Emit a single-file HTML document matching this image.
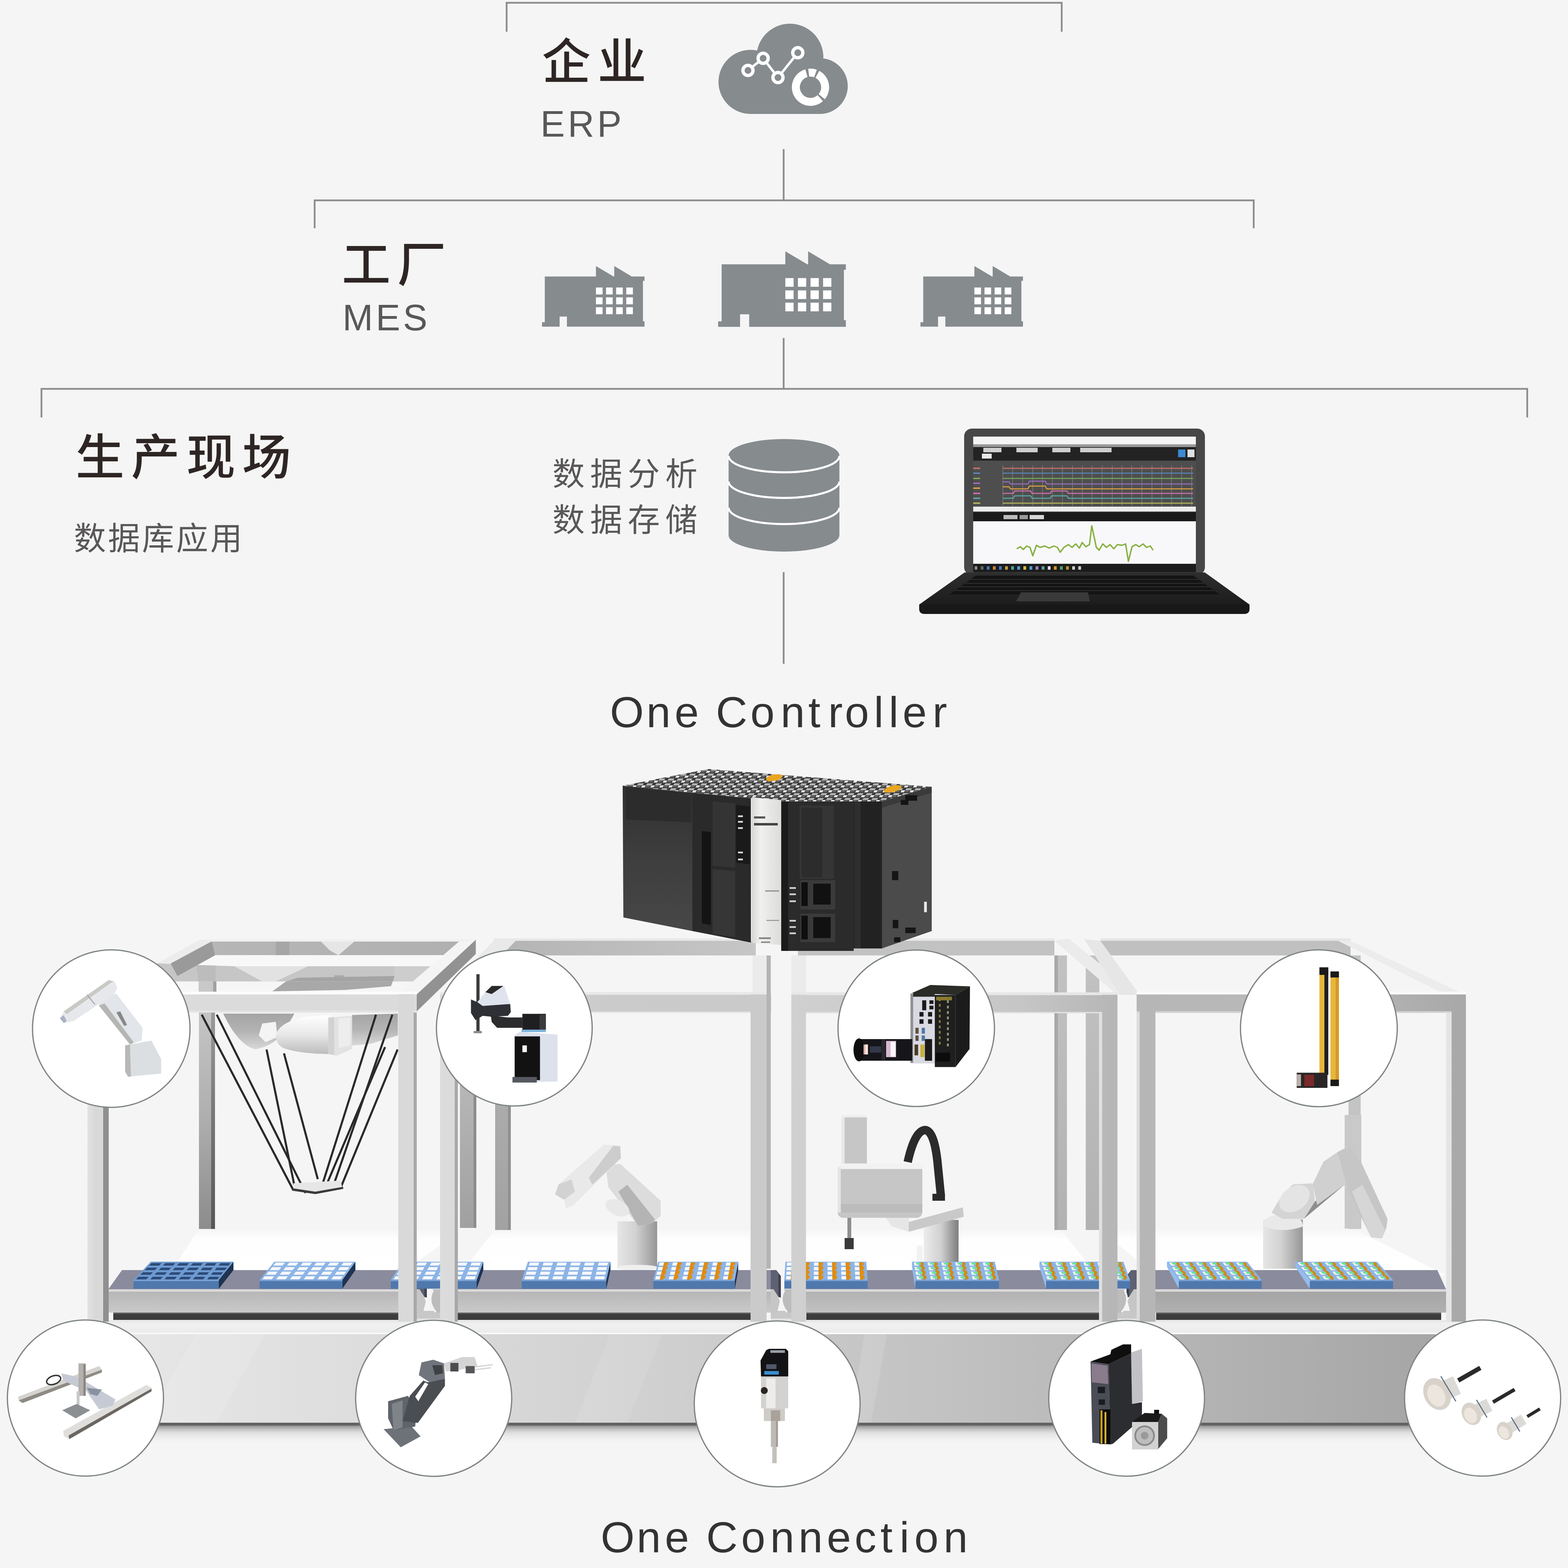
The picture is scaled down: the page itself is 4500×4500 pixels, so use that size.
<!DOCTYPE html>
<html lang="zh"><head><meta charset="utf-8"><title>One Controller / One Connection</title>
<style>
html,body{margin:0;padding:0;background:#f5f5f5;}
body{width:4500px;height:4500px;overflow:hidden;font-family:"Liberation Sans","Noto Sans CJK SC",sans-serif;}
svg{display:block;}
svg text{font-family:"Liberation Sans","Noto Sans CJK SC",sans-serif;}
</style></head><body>
<svg xmlns="http://www.w3.org/2000/svg" width="4500" height="4500" viewBox="0 0 4500 4500">
<defs><linearGradient id="floorg" x1="0" y1="0" x2="0" y2="1" gradientUnits="objectBoundingBox"><stop offset="0" stop-color="#ffffff" stop-opacity="0.0"/><stop offset="0.25" stop-color="#ffffff" stop-opacity="0.9"/><stop offset="1" stop-color="#ffffff" stop-opacity="1"/></linearGradient><linearGradient id="bp1" x1="0" y1="0" x2="0" y2="1" gradientUnits="objectBoundingBox"><stop offset="0" stop-color="#c8c8c8"/><stop offset="0.5" stop-color="#b0b0b0"/><stop offset="1" stop-color="#8c8c8c"/></linearGradient><linearGradient id="bp1d" x1="0" y1="0" x2="0" y2="1" gradientUnits="objectBoundingBox"><stop offset="0" stop-color="#a0a0a0"/><stop offset="0.5" stop-color="#787878"/><stop offset="1" stop-color="#565656"/></linearGradient><linearGradient id="bp1b" x1="0" y1="0" x2="0" y2="1" gradientUnits="objectBoundingBox"><stop offset="0" stop-color="#c2c2c2"/><stop offset="1" stop-color="#a0a0a0"/></linearGradient><linearGradient id="bp2" x1="0" y1="0" x2="0" y2="1" gradientUnits="objectBoundingBox"><stop offset="0" stop-color="#b6b6b6"/><stop offset="1" stop-color="#a2a2a2"/></linearGradient><linearGradient id="bp3" x1="0" y1="0" x2="0" y2="1" gradientUnits="objectBoundingBox"><stop offset="0" stop-color="#c2c2c2"/><stop offset="1" stop-color="#b2b2b2"/></linearGradient><linearGradient id="tf1" x1="0" y1="0" x2="1" y2="0" gradientUnits="objectBoundingBox"><stop offset="0" stop-color="#b6b6b6"/><stop offset="1" stop-color="#b0b0b0"/></linearGradient><linearGradient id="bb2" x1="0" y1="0" x2="1" y2="0" gradientUnits="objectBoundingBox"><stop offset="0" stop-color="#b4b4b4"/><stop offset="1" stop-color="#c6c6c6"/></linearGradient><linearGradient id="cyl" x1="0" y1="0" x2="1" y2="0" gradientUnits="objectBoundingBox"><stop offset="0" stop-color="#e6e6e6"/><stop offset="0.45" stop-color="#d2d2d2"/><stop offset="0.85" stop-color="#a6a6a6"/><stop offset="1" stop-color="#969696"/></linearGradient><linearGradient id="cyl2" x1="0" y1="0" x2="1" y2="0" gradientUnits="objectBoundingBox"><stop offset="0" stop-color="#ececec"/><stop offset="0.5" stop-color="#d0d0d0"/><stop offset="0.9" stop-color="#8c8c8c"/><stop offset="1" stop-color="#808080"/></linearGradient><linearGradient id="arm" x1="0" y1="0" x2="1" y2="1" gradientUnits="objectBoundingBox"><stop offset="0" stop-color="#f0f0f0"/><stop offset="0.6" stop-color="#dedede"/><stop offset="1" stop-color="#bdbdbd"/></linearGradient><linearGradient id="dl1" x1="0" y1="0" x2="0" y2="1" gradientUnits="objectBoundingBox"><stop offset="0" stop-color="#ffffff"/><stop offset="0.5" stop-color="#e8e8e8"/><stop offset="1" stop-color="#bcbcbc"/></linearGradient><linearGradient id="dl2" x1="0" y1="0" x2="0" y2="1" gradientUnits="objectBoundingBox"><stop offset="0" stop-color="#a4a4a4"/><stop offset="0.5" stop-color="#b4b4b4"/><stop offset="1" stop-color="#d8d8d8"/></linearGradient><linearGradient id="cs1" x1="0" y1="0" x2="0" y2="1" gradientUnits="objectBoundingBox"><stop offset="0" stop-color="#b4b4b4"/><stop offset="1" stop-color="#cacaca"/></linearGradient><linearGradient id="cs3" x1="0" y1="0" x2="0" y2="1" gradientUnits="objectBoundingBox"><stop offset="0" stop-color="#b0b0b0"/><stop offset="1" stop-color="#c2c2c2"/></linearGradient><linearGradient id="cs4" x1="0" y1="0" x2="0" y2="1" gradientUnits="objectBoundingBox"><stop offset="0" stop-color="#a4a4a4"/><stop offset="1" stop-color="#b0b0b0"/></linearGradient><linearGradient id="baseg" x1="0" y1="0" x2="1" y2="0" gradientUnits="objectBoundingBox"><stop offset="0" stop-color="#e8e8e8"/><stop offset="0.111" stop-color="#e2e2e2"/><stop offset="0.3645" stop-color="#d3d3d3"/><stop offset="0.618" stop-color="#c2c2c2"/><stop offset="0.884" stop-color="#adadad"/><stop offset="1" stop-color="#a4a4a4"/></linearGradient><linearGradient id="shadow" x1="0" y1="0" x2="0" y2="1" gradientUnits="objectBoundingBox"><stop offset="0" stop-color="#7a7a7a" stop-opacity="0.85"/><stop offset="0.2" stop-color="#9a9a9a" stop-opacity="0.6"/><stop offset="0.45" stop-color="#bbbbbb" stop-opacity="0.35"/><stop offset="1" stop-color="#dddddd" stop-opacity="0"/></linearGradient><linearGradient id="topg" x1="0" y1="0" x2="0" y2="1" gradientUnits="objectBoundingBox"><stop offset="0" stop-color="#e4e4e4"/><stop offset="0.25" stop-color="#f0f0f0"/><stop offset="1" stop-color="#ececec"/></linearGradient><linearGradient id="fc1" x1="0" y1="0" x2="1" y2="0" gradientUnits="objectBoundingBox"><stop offset="0" stop-color="#e2e2e2"/><stop offset="0.5" stop-color="#d8d8d8"/><stop offset="1" stop-color="#dadada"/></linearGradient><linearGradient id="fc2" x1="1263" y1="0" x2="2215" y2="0" gradientUnits="userSpaceOnUse"><stop offset="0" stop-color="#dcdcdc"/><stop offset="0.5" stop-color="#cbcbcb"/><stop offset="1" stop-color="#cacaca"/></linearGradient><linearGradient id="fc3" x1="2271" y1="0" x2="3206" y2="0" gradientUnits="userSpaceOnUse"><stop offset="0" stop-color="#d0d0d0"/><stop offset="0.7" stop-color="#c6c6c6"/><stop offset="1" stop-color="#b6b6b6"/></linearGradient><linearGradient id="fc4" x1="3262" y1="0" x2="4206" y2="0" gradientUnits="userSpaceOnUse"><stop offset="0" stop-color="#b6b6b6"/><stop offset="0.5" stop-color="#bababa"/><stop offset="0.8" stop-color="#b0b0b0"/><stop offset="1" stop-color="#a8a8a8"/></linearGradient><pattern id="vent" width="26" height="14" patternUnits="userSpaceOnUse" patternTransform="skewX(-35)"><rect width="26" height="14" fill="#3a3a3a"/><rect x="0" y="8" width="16" height="6" fill="#b4b4b4"/><rect x="16" y="0" width="10" height="6" fill="#e8e8e8"/><rect x="2" y="1" width="10" height="4" fill="#6a6a6a"/></pattern><linearGradient id="plcL" x1="0" y1="0" x2="0" y2="1" gradientUnits="objectBoundingBox"><stop offset="0" stop-color="#303030"/><stop offset="0.5" stop-color="#3e3e3e"/><stop offset="1" stop-color="#474747"/></linearGradient><linearGradient id="silver" x1="0" y1="0" x2="1" y2="0" gradientUnits="objectBoundingBox"><stop offset="0" stop-color="#d6d6d4"/><stop offset="0.3" stop-color="#f0f0ee"/><stop offset="1" stop-color="#dcdcda"/></linearGradient><linearGradient id="kb" x1="0" y1="0" x2="0" y2="1" gradientUnits="objectBoundingBox"><stop offset="0" stop-color="#2e2e2e"/><stop offset="1" stop-color="#1c1c1c"/></linearGradient></defs>
<rect width="4500" height="4500" fill="#f5f5f5"/>
<polygon points="572.0,3524.0 1330.0,3524.0 1145.0,3660.0 485.0,3660.0" fill="url(#floorg)" />
<polygon points="1424.0,3524.0 2180.0,3524.0 2156.0,3660.0 1317.0,3660.0" fill="url(#floorg)" />
<polygon points="2300.0,3524.0 3040.0,3524.0 3150.0,3660.0 2314.0,3660.0" fill="url(#floorg)" />
<polygon points="3150.0,3524.0 3880.0,3524.0 4150.0,3660.0 3317.0,3660.0" fill="url(#floorg)" />
<polygon points="572.4,2698.9 1365.5,2698.0 1195.2,2854.6 407.0,2854.6" fill="#e6e6e6" />
<polygon points="604.1,2701.4 1319.3,2701.4 1277.9,2741.3 616.2,2741.3" fill="url(#tf1)" />
<polygon points="920.3,2701.4 1017.6,2701.4 971.4,2741.3 947.1,2728.1" fill="#e6e6e6" />
<polygon points="791.4,2701.4 830.3,2701.4 830.3,2741.3 791.4,2741.3" fill="#a6a6a6" />
<polygon points="616.2,2741.3 1277.9,2741.3 1239.0,2772.9 674.6,2772.9 562.7,2769.5" fill="#f8f8f8" />
<polygon points="450.8,2764.6 562.7,2769.5 674.6,2772.9 1239.0,2772.9 1185.5,2816.7 407.0,2816.7" fill="#c6c6c6" />
<polygon points="672.2,2772.9 883.8,2772.9 791.4,2816.7 752.5,2816.7" fill="#e2e2e2" />
<polygon points="1132.0,2772.9 1239.0,2772.9 1185.5,2816.7 1132.0,2816.7" fill="#cdcdcd" />
<polygon points="562.7,2769.5 618.7,2770.9 618.7,2816.7 570.0,2816.7" fill="#bcbcbc" />
<polygon points="959.2,2798.7 986.0,2798.7 986.0,2816.7 959.2,2816.7" fill="#aaaaaa" />
<polygon points="854.6,2806.0 1132.0,2801.1 1127.1,2816.7 820.6,2816.7" fill="#a4a4a4" />
<polygon points="407.0,2816.7 1185.5,2816.7 1146.6,2854.6 407.0,2854.6" fill="#f6f6f6" />
<polygon points="820.6,2816.7 1127.1,2816.7 1122.2,2830.3 990.9,2841.0 781.7,2844.9" fill="#a8a8a8" />
<polygon points="570.0,2816.7 611.4,2816.7 611.4,2854.6 570.0,2854.6" fill="#c8c8c8" />
<polygon points="611.4,2816.7 621.1,2816.7 621.1,2854.6 611.4,2854.6" fill="#a0a0a0" />
<polygon points="572.4,2697.0 607.5,2701.8 489.7,2765.1 450.8,2765.1" fill="#ececec" />
<polygon points="607.5,2701.8 617.2,2741.7 509.2,2801.1 489.7,2765.1" fill="#9a9a9a" />
<polygon points="1317.8,2701.8 1365.5,2697.0 1195.2,2854.6 1147.5,2848.8" fill="#f4f4f4" />
<polygon points="1365.5,2697.0 1365.5,2737.8 1195.2,2903.3 1195.2,2854.6" fill="#929292" />
<polygon points="572.4,2696.0 1365.5,2696.0 1317.8,2702.3 605.5,2702.3" fill="#f0f0f0" />
<rect x="571.0" y="2855.0" width="35.0" height="672.0" fill="url(#bp1)" />
<rect x="606.0" y="2855.0" width="11.0" height="672.0" fill="url(#bp1d)" />
<rect x="1320.0" y="2906.0" width="39.0" height="618.0" fill="url(#bp1b)" />
<rect x="1359.0" y="2906.0" width="8.0" height="618.0" fill="#8c8c8c" />
<rect x="1417.0" y="2700.0" width="752.0" height="42.0" fill="url(#bb2)" />
<rect x="1417.0" y="2693.0" width="752.0" height="7.0" fill="#e8e8e8" />
<rect x="1421.0" y="2742.0" width="45.0" height="788.0" fill="url(#bp2)" />
<rect x="1458.0" y="2742.0" width="8.0" height="788.0" fill="#909090" />
<rect x="2160.0" y="2742.0" width="48.0" height="113.0" fill="#ebebeb" />
<rect x="2271.0" y="2742.0" width="42.0" height="113.0" fill="#ebebeb" />
<rect x="2290.0" y="2700.0" width="736.0" height="42.0" fill="#c2c2c2" />
<rect x="2290.0" y="2693.0" width="736.0" height="7.0" fill="#e8e8e8" />
<rect x="3026.0" y="2742.0" width="36.0" height="788.0" fill="url(#bp3)" />
<rect x="3026.0" y="2742.0" width="10.0" height="788.0" fill="#a8a8a8" />
<rect x="3158.0" y="2700.0" width="718.0" height="42.0" fill="#c0c0c0" />
<rect x="3158.0" y="2693.0" width="718.0" height="7.0" fill="#e6e6e6" />
<rect x="3116.0" y="2742.0" width="39.0" height="788.0" fill="url(#bp3)" />
<rect x="3870.0" y="2742.0" width="35.0" height="785.0" fill="#c4c4c4" />
<polygon points="1263.0,2855.0 1417.0,2700.0 1480.0,2700.0 1330.0,2855.0" fill="#e9e9e9" />
<polygon points="3026.0,2700.0 3066.0,2693.0 3268.0,2855.0 3206.0,2855.0" fill="#ebebeb" />
<polygon points="3112.0,2696.0 3158.0,2700.0 3271.0,2855.0 3215.0,2855.0" fill="#e6e6e6" />
<polygon points="3840.0,2700.0 3876.0,2700.0 4206.0,2855.0 4150.0,2855.0" fill="#ececec" />
<g>
<polygon points="1010.3,2913.0 1141.7,2909.1 1141.7,2971.4 1063.9,2995.7 1010.3,3000.6" fill="url(#dl2)" />
<path d="M640.6 2909.1 L844.9 2909.1 L820.6 2951.9 Q791.4 3000.6 733.0 3011.3 Q684.3 3000.6 640.6 2909.1Z" fill="url(#dl2)"/>
<polygon points="752.5,2937.3 791.4,2932.5 796.3,2976.3 762.2,2990.9 742.7,2971.4" fill="#f4f4f4" />
<path d="M791.4 2971.4 Q801.1 2932.5 879.0 2917.9 L947.1 2913.0 L947.1 3024.9 Q869.2 3024.9 820.6 3010.3 Q791.4 3000.6 791.4 2971.4Z" fill="url(#dl1)"/>
<polygon points="942.2,2920.3 1010.3,2915.4 1010.3,3010.3 966.5,3029.8 942.2,3024.9" fill="#e2e2e2" />
<polygon points="942.2,2920.3 959.2,2919.3 959.2,3027.8 942.2,3024.9" fill="#d2d2d2" />
<polygon points="971.4,2922.7 1005.5,2920.3 1005.5,3000.6 971.4,3007.9" fill="#ededed" />
<g stroke="#2a2a2a" stroke-width="6" stroke-linecap="butt" fill="none">
<path d="M579 2912L842 3416"/>
<path d="M622 2912L877 3424"/>
<path d="M765 3012L846 3408"/>
<path d="M815 3023L912 3384"/>
<path d="M1079 2912L920 3416"/>
<path d="M1126 2912L955 3408"/>
<path d="M1141 3012L978 3408"/>
<path d="M1105 3005L938 3398"/>
</g>
<path d="M842 3396 L978 3388 L982 3408 L905 3420 L842 3414 Z" fill="#e6e6e6"/>
<path d="M838 3410 L905 3420 L985 3406 L985 3412 L905 3427 L838 3417 Z" fill="#3a3a3a"/>
</g>
<g>
<rect x="1772.0" y="3505.0" width="114.0" height="135.0" fill="url(#cyl)" />
<ellipse cx="1829" cy="3638" rx="60" ry="8" fill="#efefef"/>
<polygon points="1738.0,3345.0 1780.0,3340.0 1896.0,3446.0 1896.0,3490.0 1870.0,3511.0 1831.0,3518.0 1746.0,3407.0" fill="#dcdcdc" />
<polygon points="1775.0,3420.0 1831.0,3518.0 1870.0,3511.0 1880.0,3500.0 1800.0,3400.0" fill="#b4b4b4" />
<ellipse cx="1772" cy="3466" rx="36" ry="22" fill="#e8e8e8" transform="rotate(25 1772 3466)"/>
<polygon points="1593.0,3428.0 1603.0,3399.0 1733.0,3285.0 1780.0,3288.0 1782.0,3324.0 1645.0,3459.0 1624.0,3467.0 1619.0,3443.0" fill="#e9e9e9" />
<polygon points="1700.0,3400.0 1782.0,3324.0 1780.0,3290.0 1760.0,3288.0 1690.0,3380.0" fill="#cdcdcd" />
<polygon points="1593.0,3428.0 1603.0,3399.0 1640.0,3385.0 1650.0,3420.0 1619.0,3443.0" fill="#d2d2d2" />
</g>
<g>
<rect x="2651.0" y="3501.0" width="100.0" height="123.0" fill="url(#cyl2)" />
<rect x="2631.0" y="3575.0" width="17.0" height="45.0" fill="#f2f2f2" />
<rect x="2415.0" y="3201.0" width="73.0" height="144.0" fill="#c6c6c6" />
<rect x="2415.0" y="3201.0" width="9.0" height="144.0" fill="#e8e8e8" />
<rect x="2415.0" y="3201.0" width="73.0" height="6.0" fill="#ededed" />
<rect x="2404" y="3339" width="243" height="156" rx="16" fill="#c6c6c6"/>
<path d="M2420 3339 H2631 Q2647 3339 2647 3355 H2404 Q2404 3339 2420 3339Z" fill="#f2f2f2"/>
<rect x="2404.0" y="3455.0" width="243.0" height="25.0" fill="#bcbcbc" />
<rect x="2404.0" y="3350.0" width="9.0" height="130.0" fill="#e4e4e4" />
<rect x="2432.0" y="3495.0" width="11.0" height="65.0" fill="#8f8f8f" />
<rect x="2424.0" y="3553.0" width="26.0" height="32.0" fill="#3a3a3a" />
<polygon points="2542.0,3495.0 2608.0,3495.0 2608.0,3535.0 2560.0,3520.0" fill="#e6e6e6" />
<polygon points="2608.0,3507.0 2763.0,3465.0 2766.0,3492.0 2608.0,3535.0" fill="#c9c9c9" />
<path d="M2605 3335 Q2625 3245 2655 3243 Q2680 3245 2690 3330 L2700 3430" stroke="#2b2b2b" stroke-width="24" fill="none" stroke-linecap="butt"/>
<rect x="2676.0" y="3426.0" width="36.0" height="20.0" fill="#2b2b2b" />
</g>
<g>
<rect x="3859.0" y="3200.0" width="48.0" height="326.0" fill="#c9c9c9" />
<rect x="3625.0" y="3500.0" width="114.0" height="141.0" fill="url(#cyl)" />
<path d="M3625 3520 Q3625 3486 3682 3486 Q3739 3486 3739 3520 Q3682 3540 3625 3520Z" fill="#e9e9e9"/>
<polygon points="3649.0,3480.0 3683.0,3424.0 3711.0,3399.0 3767.0,3396.0 3774.0,3448.0 3742.0,3498.0 3680.0,3498.0" fill="#d4d4d4" />
<ellipse cx="3715" cy="3440" rx="48" ry="34" fill="#e4e4e4" transform="rotate(-35 3715 3440)"/>
<polygon points="3742.0,3498.0 3860.0,3399.0 3855.0,3380.0 3774.0,3448.0" fill="#8e8e8e" />
<polygon points="3767.0,3399.0 3798.0,3334.0 3839.0,3306.0 3870.0,3290.0 3876.0,3324.0 3860.0,3399.0 3780.0,3458.0" fill="#d0d0d0" />
<polygon points="3839.0,3306.0 3873.0,3290.0 3907.0,3337.0 3982.0,3498.0 3979.0,3523.0 3966.0,3554.0 3935.0,3551.0 3873.0,3424.0 3864.0,3399.0" fill="#c6c6c6" />
<polygon points="3880.0,3420.0 3935.0,3551.0 3966.0,3554.0 3975.0,3530.0 3910.0,3400.0" fill="#d6d6d6" />
</g>
<polygon points="350.0,3645.0 1196.0,3645.0 1196.0,3700.0 311.0,3700.0" fill="#8a8b9d" />
<rect x="311.0" y="3700.0" width="885.0" height="67.0" fill="url(#cs1)" />
<rect x="311.0" y="3700.0" width="885.0" height="7.0" fill="#d9d9d9" />
<rect x="325.0" y="3767.0" width="819.0" height="21.0" fill="#3c3c3c" />
<rect x="325.0" y="3767.0" width="819.0" height="4.0" fill="#5a5a5a" />
<polygon points="1300.0,3645.0 2212.0,3645.0 2212.0,3700.0 1285.0,3700.0" fill="#8a8b9d" />
<rect x="1285.0" y="3700.0" width="927.0" height="67.0" fill="url(#cs1)" />
<rect x="1285.0" y="3700.0" width="927.0" height="7.0" fill="#d9d9d9" />
<rect x="1314.0" y="3767.0" width="842.0" height="21.0" fill="#3c3c3c" />
<rect x="1314.0" y="3767.0" width="842.0" height="4.0" fill="#5a5a5a" />
<polygon points="2262.0,3645.0 3207.0,3645.0 3207.0,3700.0 2275.0,3700.0" fill="#8a8b9d" />
<rect x="2275.0" y="3700.0" width="932.0" height="67.0" fill="url(#cs3)" />
<rect x="2275.0" y="3700.0" width="932.0" height="7.0" fill="#d9d9d9" />
<rect x="2314.0" y="3767.0" width="842.0" height="21.0" fill="#3c3c3c" />
<rect x="2314.0" y="3767.0" width="842.0" height="4.0" fill="#5a5a5a" />
<polygon points="3262.0,3645.0 4125.0,3645.0 4150.0,3700.0 3262.0,3700.0" fill="#8a8b9d" />
<rect x="3262.0" y="3700.0" width="888.0" height="67.0" fill="url(#cs4)" />
<rect x="3262.0" y="3700.0" width="888.0" height="7.0" fill="#d9d9d9" />
<rect x="3318.0" y="3767.0" width="818.0" height="21.0" fill="#3c3c3c" />
<rect x="3318.0" y="3767.0" width="818.0" height="4.0" fill="#5a5a5a" />
<rect x="1196.0" y="3700.0" width="67.0" height="90.0" fill="#f5f5f5" />
<rect x="1196.0" y="3762.0" width="67.0" height="28.0" fill="#c8c8c8" />
<rect x="1196.0" y="3784.0" width="67.0" height="6.0" fill="#e2e2e2" />
<polygon points="1196.0,3700.0 1210.0,3700.0 1222.0,3735.0 1214.0,3767.0 1196.0,3767.0" fill="#c6c6c6" />
<polygon points="1196.0,3645.0 1212.0,3645.0 1225.0,3662.0 1225.0,3724.0 1218.0,3722.0 1204.0,3700.0 1196.0,3700.0" fill="#5e6172" />
<polygon points="1218.0,3655.0 1225.0,3662.0 1225.0,3724.0 1218.0,3722.0" fill="#3f4150" />
<path d="M1263 3700 L1241 3700 Q1223 3735 1249 3767 L1263 3767Z" fill="#bcbcbc"/>
<path d="M1243 3702 Q1225 3735 1251 3766" stroke="#f4f4f4" stroke-width="5" fill="none"/>
<rect x="2212.0" y="3700.0" width="59.0" height="90.0" fill="#f5f5f5" />
<rect x="2212.0" y="3762.0" width="59.0" height="28.0" fill="#c8c8c8" />
<rect x="2212.0" y="3784.0" width="59.0" height="6.0" fill="#e2e2e2" />
<polygon points="2212.0,3700.0 2226.0,3700.0 2238.0,3735.0 2230.0,3767.0 2212.0,3767.0" fill="#c6c6c6" />
<polygon points="2212.0,3645.0 2228.0,3645.0 2241.0,3662.0 2241.0,3724.0 2234.0,3722.0 2220.0,3700.0 2212.0,3700.0" fill="#5e6172" />
<polygon points="2234.0,3655.0 2241.0,3662.0 2241.0,3724.0 2234.0,3722.0" fill="#3f4150" />
<path d="M2271 3700 L2249 3700 Q2231 3735 2257 3767 L2271 3767Z" fill="#bcbcbc"/>
<path d="M2251 3702 Q2233 3735 2259 3766" stroke="#f4f4f4" stroke-width="5" fill="none"/>
<rect x="3207.0" y="3700.0" width="55.0" height="90.0" fill="#f5f5f5" />
<rect x="3207.0" y="3762.0" width="55.0" height="28.0" fill="#c8c8c8" />
<rect x="3207.0" y="3784.0" width="55.0" height="6.0" fill="#e2e2e2" />
<polygon points="3262.0,3700.0 3248.0,3700.0 3236.0,3735.0 3244.0,3767.0 3262.0,3767.0" fill="#c6c6c6" />
<polygon points="3262.0,3645.0 3246.0,3645.0 3233.0,3662.0 3233.0,3724.0 3240.0,3722.0 3254.0,3700.0 3262.0,3700.0" fill="#5e6172" />
<polygon points="3240.0,3655.0 3233.0,3662.0 3233.0,3724.0 3240.0,3722.0" fill="#3f4150" />
<path d="M3207 3700 L3229 3700 Q3247 3735 3221 3767 L3207 3767Z" fill="#bcbcbc"/>
<path d="M3227 3702 Q3245 3735 3219 3766" stroke="#f4f4f4" stroke-width="5" fill="none"/>
<polygon points="670.0,3621.0 628.0,3673.5 628.0,3698.5 670.0,3645.0" fill="#1f3352" />
<polygon points="433.0,3621.0 670.0,3621.0 628.0,3673.5 383.0,3673.5" fill="#6e9ad0" />
<rect x="383.0" y="3673.5" width="245.0" height="25.0" fill="#4f78ad" />
<rect x="383.0" y="3673.5" width="245.0" height="3.0" fill="#7fa6d8" />
<g><polygon points="434.8,3624.9 463.3,3624.9 456.6,3632.2 427.9,3632.2" fill="#2c4a78"/><polygon points="422.3,3638.1 451.1,3638.1 444.4,3645.3 415.5,3645.3" fill="#2c4a78"/><polygon points="409.9,3651.2 438.9,3651.2 432.2,3658.4 403.0,3658.4" fill="#2c4a78"/><polygon points="397.4,3664.3 426.7,3664.3 419.9,3671.5 390.6,3671.5" fill="#2c4a78"/><polygon points="474.4,3624.9 502.9,3624.9 496.4,3632.2 467.7,3632.2" fill="#2c4a78"/><polygon points="462.3,3638.1 491.0,3638.1 484.5,3645.3 455.6,3645.3" fill="#2c4a78"/><polygon points="450.2,3651.2 479.1,3651.2 472.6,3658.4 443.5,3658.4" fill="#2c4a78"/><polygon points="438.0,3664.3 467.3,3664.3 460.7,3671.5 431.4,3671.5" fill="#2c4a78"/><polygon points="514.0,3624.9 542.5,3624.9 536.2,3632.2 507.5,3632.2" fill="#2c4a78"/><polygon points="502.2,3638.1 531.0,3638.1 524.6,3645.3 495.7,3645.3" fill="#2c4a78"/><polygon points="490.4,3651.2 519.4,3651.2 513.1,3658.4 483.9,3658.4" fill="#2c4a78"/><polygon points="478.6,3664.3 507.9,3664.3 501.5,3671.5 472.2,3671.5" fill="#2c4a78"/><polygon points="553.6,3624.9 582.1,3624.9 575.9,3632.2 547.3,3632.2" fill="#2c4a78"/><polygon points="542.1,3638.1 570.9,3638.1 564.7,3645.3 535.8,3645.3" fill="#2c4a78"/><polygon points="530.7,3651.2 559.7,3651.2 553.5,3658.4 524.4,3658.4" fill="#2c4a78"/><polygon points="519.2,3664.3 548.5,3664.3 542.3,3671.5 512.9,3671.5" fill="#2c4a78"/><polygon points="593.2,3624.9 621.7,3624.9 615.7,3632.2 587.1,3632.2" fill="#2c4a78"/><polygon points="582.1,3638.1 610.8,3638.1 604.8,3645.3 576.0,3645.3" fill="#2c4a78"/><polygon points="571.0,3651.2 599.9,3651.2 594.0,3658.4 564.8,3658.4" fill="#2c4a78"/><polygon points="559.8,3664.3 589.1,3664.3 583.1,3671.5 553.7,3671.5" fill="#2c4a78"/><polygon points="632.8,3624.9 661.3,3624.9 655.5,3632.2 626.9,3632.2" fill="#2c4a78"/><polygon points="622.0,3638.1 650.8,3638.1 645.0,3645.3 616.1,3645.3" fill="#2c4a78"/><polygon points="611.2,3651.2 640.2,3651.2 634.4,3658.4 605.3,3658.4" fill="#2c4a78"/><polygon points="600.4,3664.3 629.7,3664.3 623.9,3671.5 594.5,3671.5" fill="#2c4a78"/></g>
<polygon points="1020.0,3621.0 982.5,3673.5 982.5,3698.5 1020.0,3645.0" fill="#1f3352" />
<polygon points="787.0,3621.0 1020.0,3621.0 982.5,3673.5 745.0,3673.5" fill="#8cb4e6" />
<rect x="745.0" y="3673.5" width="237.5" height="25.0" fill="#4f78ad" />
<rect x="745.0" y="3673.5" width="237.5" height="3.0" fill="#7fa6d8" />
<g><polygon points="791.3,3623.4 817.8,3623.4 810.9,3632.0 784.4,3632.0" fill="#f6f8fb"/><polygon points="780.9,3636.5 807.4,3636.5 800.6,3645.2 773.9,3645.2" fill="#f6f8fb"/><polygon points="770.4,3649.6 797.1,3649.6 790.2,3658.3 763.5,3658.3" fill="#f6f8fb"/><polygon points="759.9,3662.7 786.7,3662.7 779.9,3671.4 753.0,3671.4" fill="#f6f8fb"/><polygon points="830.2,3623.4 856.6,3623.4 849.9,3632.0 823.4,3632.0" fill="#f6f8fb"/><polygon points="819.9,3636.5 846.5,3636.5 839.8,3645.2 813.1,3645.2" fill="#f6f8fb"/><polygon points="809.6,3649.6 836.3,3649.6 829.6,3658.3 802.8,3658.3" fill="#f6f8fb"/><polygon points="799.3,3662.7 826.2,3662.7 819.5,3671.4 792.6,3671.4" fill="#f6f8fb"/><polygon points="869.1,3623.4 895.5,3623.4 888.9,3632.0 862.4,3632.0" fill="#f6f8fb"/><polygon points="859.0,3636.5 885.5,3636.5 878.9,3645.2 852.3,3645.2" fill="#f6f8fb"/><polygon points="848.9,3649.6 875.6,3649.6 869.0,3658.3 842.2,3658.3" fill="#f6f8fb"/><polygon points="838.8,3662.7 865.6,3662.7 859.0,3671.4 832.1,3671.4" fill="#f6f8fb"/><polygon points="907.9,3623.4 934.4,3623.4 927.9,3632.0 901.4,3632.0" fill="#f6f8fb"/><polygon points="898.0,3636.5 924.6,3636.5 918.1,3645.2 891.5,3645.2" fill="#f6f8fb"/><polygon points="888.1,3649.6 914.8,3649.6 908.3,3658.3 881.6,3658.3" fill="#f6f8fb"/><polygon points="878.2,3662.7 905.0,3662.7 898.6,3671.4 871.7,3671.4" fill="#f6f8fb"/><polygon points="946.8,3623.4 973.2,3623.4 966.9,3632.0 940.4,3632.0" fill="#f6f8fb"/><polygon points="937.1,3636.5 963.6,3636.5 957.3,3645.2 930.7,3645.2" fill="#f6f8fb"/><polygon points="927.4,3649.6 954.0,3649.6 947.7,3658.3 920.9,3658.3" fill="#f6f8fb"/><polygon points="917.6,3662.7 944.4,3662.7 938.1,3671.4 911.2,3671.4" fill="#f6f8fb"/><polygon points="985.7,3623.4 1012.1,3623.4 1005.9,3632.0 979.4,3632.0" fill="#f6f8fb"/><polygon points="976.1,3636.5 1002.7,3636.5 996.5,3645.2 969.8,3645.2" fill="#f6f8fb"/><polygon points="966.6,3649.6 993.3,3649.6 987.1,3658.3 960.3,3658.3" fill="#f6f8fb"/><polygon points="957.1,3662.7 983.9,3662.7 977.7,3671.4 950.8,3671.4" fill="#f6f8fb"/></g>
<polygon points="1387.0,3621.0 1368.0,3673.5 1368.0,3698.5 1387.0,3645.0" fill="#1f3352" />
<polygon points="1156.0,3621.0 1387.0,3621.0 1368.0,3673.5 1121.5,3673.5" fill="#8cb4e6" />
<rect x="1121.5" y="3673.5" width="246.5" height="25.0" fill="#4f78ad" />
<rect x="1121.5" y="3673.5" width="246.5" height="3.0" fill="#7fa6d8" />
<g><polygon points="1160.6,3623.4 1186.9,3623.4 1181.6,3632.0 1155.0,3632.0" fill="#f6f8fb"/><polygon points="1152.1,3636.5 1178.8,3636.5 1173.5,3645.2 1146.5,3645.2" fill="#f6f8fb"/><polygon points="1143.6,3649.6 1170.7,3649.6 1165.4,3658.3 1138.0,3658.3" fill="#f6f8fb"/><polygon points="1135.1,3662.7 1162.6,3662.7 1157.3,3671.4 1129.4,3671.4" fill="#f6f8fb"/><polygon points="1199.2,3623.4 1225.5,3623.4 1220.6,3632.0 1194.0,3632.0" fill="#f6f8fb"/><polygon points="1191.4,3636.5 1218.1,3636.5 1213.2,3645.2 1186.2,3645.2" fill="#f6f8fb"/><polygon points="1183.5,3649.6 1210.6,3649.6 1205.7,3658.3 1178.3,3658.3" fill="#f6f8fb"/><polygon points="1175.6,3662.7 1203.2,3662.7 1198.3,3671.4 1170.4,3671.4" fill="#f6f8fb"/><polygon points="1237.9,3623.4 1264.1,3623.4 1259.6,3632.0 1233.1,3632.0" fill="#f6f8fb"/><polygon points="1230.6,3636.5 1257.3,3636.5 1252.8,3645.2 1225.9,3645.2" fill="#f6f8fb"/><polygon points="1223.4,3649.6 1250.5,3649.6 1246.1,3658.3 1218.6,3658.3" fill="#f6f8fb"/><polygon points="1216.2,3662.7 1243.7,3662.7 1239.3,3671.4 1211.4,3671.4" fill="#f6f8fb"/><polygon points="1276.5,3623.4 1302.7,3623.4 1298.7,3632.0 1272.1,3632.0" fill="#f6f8fb"/><polygon points="1269.9,3636.5 1296.6,3636.5 1292.5,3645.2 1265.5,3645.2" fill="#f6f8fb"/><polygon points="1263.3,3649.6 1290.4,3649.6 1286.4,3658.3 1259.0,3658.3" fill="#f6f8fb"/><polygon points="1256.7,3662.7 1284.3,3662.7 1280.2,3671.4 1252.4,3671.4" fill="#f6f8fb"/><polygon points="1315.1,3623.4 1341.4,3623.4 1337.7,3632.0 1311.2,3632.0" fill="#f6f8fb"/><polygon points="1309.2,3636.5 1335.9,3636.5 1332.2,3645.2 1305.2,3645.2" fill="#f6f8fb"/><polygon points="1303.2,3649.6 1330.4,3649.6 1326.7,3658.3 1299.3,3658.3" fill="#f6f8fb"/><polygon points="1297.3,3662.7 1324.9,3662.7 1321.2,3671.4 1293.4,3671.4" fill="#f6f8fb"/><polygon points="1353.7,3623.4 1380.0,3623.4 1376.8,3632.0 1350.2,3632.0" fill="#f6f8fb"/><polygon points="1348.4,3636.5 1375.1,3636.5 1371.9,3645.2 1344.9,3645.2" fill="#f6f8fb"/><polygon points="1343.1,3649.6 1370.3,3649.6 1367.1,3658.3 1339.6,3658.3" fill="#f6f8fb"/><polygon points="1337.8,3662.7 1365.4,3662.7 1362.2,3671.4 1334.3,3671.4" fill="#f6f8fb"/></g>
<polygon points="1752.0,3621.0 1740.0,3673.5 1740.0,3698.5 1752.0,3645.0" fill="#1f3352" />
<polygon points="1515.0,3621.0 1752.0,3621.0 1740.0,3673.5 1497.5,3673.5" fill="#8cb4e6" />
<rect x="1497.5" y="3673.5" width="242.5" height="25.0" fill="#4f78ad" />
<rect x="1497.5" y="3673.5" width="242.5" height="3.0" fill="#7fa6d8" />
<g><polygon points="1520.5,3623.4 1547.4,3623.4 1544.7,3632.0 1517.7,3632.0" fill="#f6f8fb"/><polygon points="1516.2,3636.5 1543.2,3636.5 1540.5,3645.2 1513.3,3645.2" fill="#f6f8fb"/><polygon points="1511.9,3649.6 1539.1,3649.6 1536.3,3658.3 1509.0,3658.3" fill="#f6f8fb"/><polygon points="1507.5,3662.7 1534.9,3662.7 1532.1,3671.4 1504.7,3671.4" fill="#f6f8fb"/><polygon points="1560.1,3623.4 1587.0,3623.4 1584.4,3632.0 1557.4,3632.0" fill="#f6f8fb"/><polygon points="1556.0,3636.5 1583.0,3636.5 1580.4,3645.2 1553.3,3645.2" fill="#f6f8fb"/><polygon points="1551.9,3649.6 1579.1,3649.6 1576.5,3658.3 1549.1,3658.3" fill="#f6f8fb"/><polygon points="1547.8,3662.7 1575.1,3662.7 1572.5,3671.4 1545.0,3671.4" fill="#f6f8fb"/><polygon points="1599.6,3623.4 1626.5,3623.4 1624.1,3632.0 1597.1,3632.0" fill="#f6f8fb"/><polygon points="1595.7,3636.5 1622.8,3636.5 1620.3,3645.2 1593.2,3645.2" fill="#f6f8fb"/><polygon points="1591.9,3649.6 1619.1,3649.6 1616.6,3658.3 1589.3,3658.3" fill="#f6f8fb"/><polygon points="1588.0,3662.7 1615.3,3662.7 1612.9,3671.4 1585.4,3671.4" fill="#f6f8fb"/><polygon points="1639.2,3623.4 1666.1,3623.4 1663.7,3632.0 1636.8,3632.0" fill="#f6f8fb"/><polygon points="1635.5,3636.5 1662.6,3636.5 1660.2,3645.2 1633.1,3645.2" fill="#f6f8fb"/><polygon points="1631.9,3649.6 1659.1,3649.6 1656.8,3658.3 1629.5,3658.3" fill="#f6f8fb"/><polygon points="1628.2,3662.7 1655.6,3662.7 1653.3,3671.4 1625.8,3671.4" fill="#f6f8fb"/><polygon points="1678.7,3623.4 1705.6,3623.4 1703.4,3632.0 1676.4,3632.0" fill="#f6f8fb"/><polygon points="1675.3,3636.5 1702.3,3636.5 1700.2,3645.2 1673.0,3645.2" fill="#f6f8fb"/><polygon points="1671.9,3649.6 1699.1,3649.6 1696.9,3658.3 1669.6,3658.3" fill="#f6f8fb"/><polygon points="1668.4,3662.7 1695.8,3662.7 1693.6,3671.4 1666.2,3671.4" fill="#f6f8fb"/><polygon points="1718.2,3623.4 1745.1,3623.4 1743.1,3632.0 1716.1,3632.0" fill="#f6f8fb"/><polygon points="1715.1,3636.5 1742.1,3636.5 1740.1,3645.2 1712.9,3645.2" fill="#f6f8fb"/><polygon points="1711.9,3649.6 1739.1,3649.6 1737.1,3658.3 1709.8,3658.3" fill="#f6f8fb"/><polygon points="1708.7,3662.7 1736.0,3662.7 1734.0,3671.4 1706.6,3671.4" fill="#f6f8fb"/></g>
<polygon points="2118.5,3621.0 2109.0,3673.5 2109.0,3698.5 2118.5,3645.0" fill="#1f3352" />
<polygon points="1889.0,3621.0 2118.5,3621.0 2109.0,3673.5 1875.0,3673.5" fill="#8cb4e6" />
<rect x="1875.0" y="3673.5" width="234.0" height="25.0" fill="#4f78ad" />
<rect x="1875.0" y="3673.5" width="234.0" height="3.0" fill="#7fa6d8" />
<g><polygon points="1893.0,3623.1 1907.6,3623.1 1905.2,3632.3 1890.6,3632.3" fill="#f6f8fb"/><polygon points="1889.6,3636.2 1904.2,3636.2 1901.8,3645.4 1887.1,3645.4" fill="#f6f8fb"/><polygon points="1886.1,3649.3 1900.8,3649.3 1898.4,3658.5 1883.6,3658.5" fill="#f6f8fb"/><polygon points="1882.6,3662.5 1897.4,3662.5 1895.0,3671.7 1880.2,3671.7" fill="#f6f8fb"/><polygon points="1906.0,3623.1 1919.1,3623.1 1906.5,3672.4 1893.2,3672.4" fill="#e08c10"/><polygon points="1913.4,3630.2 1918.8,3630.2 1917.8,3634.1 1912.4,3634.1" fill="#8cb4e6"/><polygon points="1910.0,3643.3 1915.4,3643.3 1914.4,3647.2 1909.0,3647.2" fill="#8cb4e6"/><polygon points="1906.7,3656.4 1912.1,3656.4 1911.1,3660.4 1905.7,3660.4" fill="#8cb4e6"/><polygon points="1903.3,3669.6 1908.8,3669.6 1907.8,3673.5 1902.3,3673.5" fill="#8cb4e6"/><polygon points="1931.3,3623.1 1945.9,3623.1 1943.6,3632.3 1929.0,3632.3" fill="#f6f8fb"/><polygon points="1928.0,3636.2 1942.6,3636.2 1940.4,3645.4 1925.7,3645.4" fill="#f6f8fb"/><polygon points="1924.7,3649.3 1939.4,3649.3 1937.2,3658.5 1922.4,3658.5" fill="#f6f8fb"/><polygon points="1921.4,3662.5 1936.2,3662.5 1934.0,3671.7 1919.1,3671.7" fill="#f6f8fb"/><polygon points="1944.3,3623.1 1957.3,3623.1 1945.5,3672.4 1932.2,3672.4" fill="#e08c10"/><polygon points="1951.8,3630.2 1957.2,3630.2 1956.2,3634.1 1950.8,3634.1" fill="#8cb4e6"/><polygon points="1948.6,3643.3 1954.0,3643.3 1953.1,3647.2 1947.7,3647.2" fill="#8cb4e6"/><polygon points="1945.4,3656.4 1950.9,3656.4 1949.9,3660.4 1944.5,3660.4" fill="#8cb4e6"/><polygon points="1942.3,3669.6 1947.7,3669.6 1946.8,3673.5 1941.3,3673.5" fill="#8cb4e6"/><polygon points="1969.6,3623.1 1984.1,3623.1 1982.0,3632.3 1967.4,3632.3" fill="#f6f8fb"/><polygon points="1966.5,3636.2 1981.1,3636.2 1979.0,3645.4 1964.3,3645.4" fill="#f6f8fb"/><polygon points="1963.4,3649.3 1978.1,3649.3 1976.0,3658.5 1961.2,3658.5" fill="#f6f8fb"/><polygon points="1960.3,3662.5 1975.0,3662.5 1972.9,3671.7 1958.1,3671.7" fill="#f6f8fb"/><polygon points="1982.6,3623.1 1995.6,3623.1 1984.4,3672.4 1971.2,3672.4" fill="#e08c10"/><polygon points="1990.2,3630.2 1995.6,3630.2 1994.7,3634.1 1989.3,3634.1" fill="#8cb4e6"/><polygon points="1987.2,3643.3 1992.6,3643.3 1991.7,3647.2 1986.3,3647.2" fill="#8cb4e6"/><polygon points="1984.2,3656.4 1989.6,3656.4 1988.7,3660.4 1983.3,3660.4" fill="#8cb4e6"/><polygon points="1981.2,3669.6 1986.7,3669.6 1985.8,3673.5 1980.3,3673.5" fill="#8cb4e6"/><polygon points="2007.9,3623.1 2022.4,3623.1 2020.4,3632.3 2005.8,3632.3" fill="#f6f8fb"/><polygon points="2005.0,3636.2 2019.6,3636.2 2017.6,3645.4 2002.9,3645.4" fill="#f6f8fb"/><polygon points="2002.0,3649.3 2016.7,3649.3 2014.7,3658.5 2000.0,3658.5" fill="#f6f8fb"/><polygon points="1999.1,3662.5 2013.9,3662.5 2011.9,3671.7 1997.1,3671.7" fill="#f6f8fb"/><polygon points="2020.9,3623.1 2033.9,3623.1 2023.4,3672.4 2010.2,3672.4" fill="#e08c10"/><polygon points="2028.6,3630.2 2033.9,3630.2 2033.1,3634.1 2027.7,3634.1" fill="#8cb4e6"/><polygon points="2025.8,3643.3 2031.2,3643.3 2030.3,3647.2 2024.9,3647.2" fill="#8cb4e6"/><polygon points="2022.9,3656.4 2028.4,3656.4 2027.5,3660.4 2022.1,3660.4" fill="#8cb4e6"/><polygon points="2020.1,3669.6 2025.6,3669.6 2024.8,3673.5 2019.3,3673.5" fill="#8cb4e6"/><polygon points="2046.2,3623.1 2060.7,3623.1 2058.8,3632.3 2044.2,3632.3" fill="#f6f8fb"/><polygon points="2043.4,3636.2 2058.0,3636.2 2056.2,3645.4 2041.5,3645.4" fill="#f6f8fb"/><polygon points="2040.7,3649.3 2055.4,3649.3 2053.5,3658.5 2038.8,3658.5" fill="#f6f8fb"/><polygon points="2038.0,3662.5 2052.7,3662.5 2050.9,3671.7 2036.1,3671.7" fill="#f6f8fb"/><polygon points="2059.2,3623.1 2072.2,3623.1 2062.4,3672.4 2049.2,3672.4" fill="#e08c10"/><polygon points="2066.9,3630.2 2072.3,3630.2 2071.5,3634.1 2066.2,3634.1" fill="#8cb4e6"/><polygon points="2064.3,3643.3 2069.7,3643.3 2068.9,3647.2 2063.5,3647.2" fill="#8cb4e6"/><polygon points="2061.7,3656.4 2067.1,3656.4 2066.4,3660.4 2060.9,3660.4" fill="#8cb4e6"/><polygon points="2059.1,3669.6 2064.5,3669.6 2063.8,3673.5 2058.3,3673.5" fill="#8cb4e6"/><polygon points="2084.4,3623.1 2099.0,3623.1 2097.3,3632.3 2082.7,3632.3" fill="#f6f8fb"/><polygon points="2081.9,3636.2 2096.5,3636.2 2094.8,3645.4 2080.1,3645.4" fill="#f6f8fb"/><polygon points="2079.4,3649.3 2094.0,3649.3 2092.3,3658.5 2077.6,3658.5" fill="#f6f8fb"/><polygon points="2076.8,3662.5 2091.6,3662.5 2089.8,3671.7 2075.0,3671.7" fill="#f6f8fb"/><polygon points="2097.4,3623.1 2110.5,3623.1 2101.4,3672.4 2088.1,3672.4" fill="#e08c10"/><polygon points="2105.3,3630.2 2110.7,3630.2 2110.0,3634.1 2104.6,3634.1" fill="#8cb4e6"/><polygon points="2102.9,3643.3 2108.3,3643.3 2107.6,3647.2 2102.2,3647.2" fill="#8cb4e6"/><polygon points="2100.5,3656.4 2105.9,3656.4 2105.2,3660.4 2099.7,3660.4" fill="#8cb4e6"/><polygon points="2098.0,3669.6 2103.5,3669.6 2102.8,3673.5 2097.3,3673.5" fill="#8cb4e6"/></g>
<polygon points="2254.0,3621.0 2486.0,3621.0 2490.0,3673.5 2251.0,3673.5" fill="#8cb4e6" />
<rect x="2251.0" y="3673.5" width="239.0" height="25.0" fill="#4f78ad" />
<rect x="2251.0" y="3673.5" width="239.0" height="3.0" fill="#7fa6d8" />
<g><polygon points="2258.5,3623.1 2273.2,3623.1 2272.8,3632.3 2258.0,3632.3" fill="#f6f8fb"/><polygon points="2257.8,3636.2 2272.6,3636.2 2272.2,3645.4 2257.3,3645.4" fill="#f6f8fb"/><polygon points="2257.1,3649.3 2272.0,3649.3 2271.6,3658.5 2256.6,3658.5" fill="#f6f8fb"/><polygon points="2256.4,3662.5 2271.4,3662.5 2271.0,3671.7 2255.9,3671.7" fill="#f6f8fb"/><polygon points="2271.7,3623.1 2284.9,3623.1 2282.9,3672.4 2269.4,3672.4" fill="#e08c10"/><polygon points="2280.7,3630.2 2286.1,3630.2 2286.0,3634.1 2280.5,3634.1" fill="#8cb4e6"/><polygon points="2280.1,3643.3 2285.6,3643.3 2285.5,3647.2 2280.0,3647.2" fill="#8cb4e6"/><polygon points="2279.6,3656.4 2285.1,3656.4 2285.0,3660.4 2279.4,3660.4" fill="#8cb4e6"/><polygon points="2279.0,3669.6 2284.6,3669.6 2284.5,3673.5 2278.9,3673.5" fill="#8cb4e6"/><polygon points="2297.2,3623.1 2311.9,3623.1 2311.7,3632.3 2296.9,3632.3" fill="#f6f8fb"/><polygon points="2296.8,3636.2 2311.6,3636.2 2311.4,3645.4 2296.5,3645.4" fill="#f6f8fb"/><polygon points="2296.4,3649.3 2311.3,3649.3 2311.1,3658.5 2296.1,3658.5" fill="#f6f8fb"/><polygon points="2296.0,3662.5 2311.0,3662.5 2310.8,3671.7 2295.7,3671.7" fill="#f6f8fb"/><polygon points="2310.4,3623.1 2323.6,3623.1 2322.7,3672.4 2309.2,3672.4" fill="#e08c10"/><polygon points="2319.6,3630.2 2325.0,3630.2 2324.9,3634.1 2319.5,3634.1" fill="#8cb4e6"/><polygon points="2319.3,3643.3 2324.8,3643.3 2324.7,3647.2 2319.2,3647.2" fill="#8cb4e6"/><polygon points="2319.0,3656.4 2324.6,3656.4 2324.5,3660.4 2319.0,3660.4" fill="#8cb4e6"/><polygon points="2318.8,3669.6 2324.4,3669.6 2324.3,3673.5 2318.7,3673.5" fill="#8cb4e6"/><polygon points="2336.0,3623.1 2350.7,3623.1 2350.6,3632.3 2335.9,3632.3" fill="#f6f8fb"/><polygon points="2335.8,3636.2 2350.6,3636.2 2350.6,3645.4 2335.7,3645.4" fill="#f6f8fb"/><polygon points="2335.7,3649.3 2350.6,3649.3 2350.6,3658.5 2335.6,3658.5" fill="#f6f8fb"/><polygon points="2335.6,3662.5 2350.6,3662.5 2350.6,3671.7 2335.5,3671.7" fill="#f6f8fb"/><polygon points="2349.1,3623.1 2362.3,3623.1 2362.5,3672.4 2349.0,3672.4" fill="#e08c10"/><polygon points="2358.4,3630.2 2363.9,3630.2 2363.9,3634.1 2358.4,3634.1" fill="#8cb4e6"/><polygon points="2358.5,3643.3 2363.9,3643.3 2364.0,3647.2 2358.5,3647.2" fill="#8cb4e6"/><polygon points="2358.5,3656.4 2364.0,3656.4 2364.0,3660.4 2358.5,3660.4" fill="#8cb4e6"/><polygon points="2358.5,3669.6 2364.1,3669.6 2364.1,3673.5 2358.6,3673.5" fill="#8cb4e6"/><polygon points="2374.7,3623.1 2389.4,3623.1 2389.6,3632.3 2374.8,3632.3" fill="#f6f8fb"/><polygon points="2374.8,3636.2 2389.6,3636.2 2389.8,3645.4 2374.9,3645.4" fill="#f6f8fb"/><polygon points="2375.0,3649.3 2389.9,3649.3 2390.1,3658.5 2375.1,3658.5" fill="#f6f8fb"/><polygon points="2375.1,3662.5 2390.2,3662.5 2390.4,3671.7 2375.3,3671.7" fill="#f6f8fb"/><polygon points="2387.8,3623.1 2401.0,3623.1 2402.3,3672.4 2388.8,3672.4" fill="#e08c10"/><polygon points="2397.3,3630.2 2402.7,3630.2 2402.8,3634.1 2397.4,3634.1" fill="#8cb4e6"/><polygon points="2397.6,3643.3 2403.1,3643.3 2403.2,3647.2 2397.7,3647.2" fill="#8cb4e6"/><polygon points="2398.0,3656.4 2403.5,3656.4 2403.6,3660.4 2398.1,3660.4" fill="#8cb4e6"/><polygon points="2398.3,3669.6 2403.8,3669.6 2404.0,3673.5 2398.4,3673.5" fill="#8cb4e6"/><polygon points="2413.4,3623.1 2428.1,3623.1 2428.5,3632.3 2413.7,3632.3" fill="#f6f8fb"/><polygon points="2413.8,3636.2 2428.7,3636.2 2429.0,3645.4 2414.1,3645.4" fill="#f6f8fb"/><polygon points="2414.3,3649.3 2429.2,3649.3 2429.6,3658.5 2414.6,3658.5" fill="#f6f8fb"/><polygon points="2414.7,3662.5 2429.8,3662.5 2430.2,3671.7 2415.1,3671.7" fill="#f6f8fb"/><polygon points="2426.5,3623.1 2439.7,3623.1 2442.1,3672.4 2428.6,3672.4" fill="#e08c10"/><polygon points="2436.2,3630.2 2441.6,3630.2 2441.8,3634.1 2436.4,3634.1" fill="#8cb4e6"/><polygon points="2436.8,3643.3 2442.3,3643.3 2442.5,3647.2 2437.0,3647.2" fill="#8cb4e6"/><polygon points="2437.4,3656.4 2442.9,3656.4 2443.1,3660.4 2437.6,3660.4" fill="#8cb4e6"/><polygon points="2438.0,3669.6 2443.6,3669.6 2443.8,3673.5 2438.2,3673.5" fill="#8cb4e6"/><polygon points="2452.1,3623.1 2466.8,3623.1 2467.4,3632.3 2452.6,3632.3" fill="#f6f8fb"/><polygon points="2452.8,3636.2 2467.7,3636.2 2468.3,3645.4 2453.4,3645.4" fill="#f6f8fb"/><polygon points="2453.6,3649.3 2468.5,3649.3 2469.1,3658.5 2454.1,3658.5" fill="#f6f8fb"/><polygon points="2454.3,3662.5 2469.4,3662.5 2470.0,3671.7 2454.8,3671.7" fill="#f6f8fb"/><polygon points="2465.3,3623.1 2478.4,3623.1 2482.0,3672.4 2468.4,3672.4" fill="#e08c10"/><polygon points="2475.0,3630.2 2480.5,3630.2 2480.8,3634.1 2475.3,3634.1" fill="#8cb4e6"/><polygon points="2476.0,3643.3 2481.4,3643.3 2481.7,3647.2 2476.2,3647.2" fill="#8cb4e6"/><polygon points="2476.9,3656.4 2482.4,3656.4 2482.7,3660.4 2477.1,3660.4" fill="#8cb4e6"/><polygon points="2477.8,3669.6 2483.3,3669.6 2483.6,3673.5 2478.1,3673.5" fill="#8cb4e6"/></g>
<polygon points="2617.0,3621.0 2627.0,3673.5 2627.0,3698.5 2617.0,3635.0" fill="#94bcec" />
<polygon points="2617.0,3621.0 2855.0,3621.0 2867.0,3673.5 2627.0,3673.5" fill="#8cb4e6" />
<rect x="2627.0" y="3673.5" width="240.0" height="25.0" fill="#4f78ad" />
<rect x="2627.0" y="3673.5" width="240.0" height="3.0" fill="#7fa6d8" />
<g><polygon points="2622.2,3623.1 2634.1,3623.1 2635.8,3632.3 2623.9,3632.3" fill="#eef6f2"/><polygon points="2624.7,3636.2 2636.6,3636.2 2638.4,3645.4 2626.4,3645.4" fill="#eef6f2"/><polygon points="2627.2,3649.3 2639.1,3649.3 2640.9,3658.5 2628.9,3658.5" fill="#eef6f2"/><polygon points="2629.7,3662.5 2641.7,3662.5 2643.4,3671.7 2631.4,3671.7" fill="#eef6f2"/><polygon points="2639.6,3623.1 2650.7,3623.1 2660.4,3672.4 2649.2,3672.4" fill="#d08a14"/><polygon points="2628.7,3623.9 2642.2,3623.9 2643.2,3629.1 2629.7,3629.1" fill="#6ce49c"/><polygon points="2648.1,3630.2 2653.7,3630.2 2654.5,3634.1 2648.9,3634.1" fill="#8cb4e6"/><polygon points="2631.2,3637.0 2644.7,3637.0 2645.7,3642.3 2632.2,3642.3" fill="#6ce49c"/><polygon points="2650.7,3643.3 2656.3,3643.3 2657.1,3647.2 2651.5,3647.2" fill="#8cb4e6"/><polygon points="2633.7,3650.1 2647.3,3650.1 2648.3,3655.4 2634.7,3655.4" fill="#6ce49c"/><polygon points="2653.3,3656.4 2658.9,3656.4 2659.6,3660.4 2654.0,3660.4" fill="#8cb4e6"/><polygon points="2636.2,3663.3 2649.8,3663.3 2650.8,3668.5 2637.2,3668.5" fill="#6ce49c"/><polygon points="2655.8,3669.6 2661.4,3669.6 2662.2,3673.5 2656.6,3673.5" fill="#8cb4e6"/><polygon points="2661.8,3623.1 2673.7,3623.1 2675.6,3632.3 2663.7,3632.3" fill="#eef6f2"/><polygon points="2664.4,3636.2 2676.4,3636.2 2678.2,3645.4 2666.3,3645.4" fill="#eef6f2"/><polygon points="2667.0,3649.3 2679.0,3649.3 2680.8,3658.5 2668.8,3658.5" fill="#eef6f2"/><polygon points="2669.6,3662.5 2681.6,3662.5 2683.4,3671.7 2671.4,3671.7" fill="#eef6f2"/><polygon points="2679.3,3623.1 2690.4,3623.1 2700.4,3672.4 2689.2,3672.4" fill="#d08a14"/><polygon points="2668.3,3623.9 2681.8,3623.9 2682.9,3629.1 2669.4,3629.1" fill="#6ce49c"/><polygon points="2687.9,3630.2 2693.4,3630.2 2694.2,3634.1 2688.7,3634.1" fill="#8cb4e6"/><polygon points="2671.0,3637.0 2684.5,3637.0 2685.5,3642.3 2672.0,3642.3" fill="#6ce49c"/><polygon points="2690.5,3643.3 2696.1,3643.3 2696.9,3647.2 2691.3,3647.2" fill="#8cb4e6"/><polygon points="2673.6,3650.1 2687.1,3650.1 2688.2,3655.4 2674.6,3655.4" fill="#6ce49c"/><polygon points="2693.2,3656.4 2698.7,3656.4 2699.5,3660.4 2694.0,3660.4" fill="#8cb4e6"/><polygon points="2676.2,3663.3 2689.7,3663.3 2690.8,3668.5 2677.2,3668.5" fill="#6ce49c"/><polygon points="2695.8,3669.6 2701.4,3669.6 2702.2,3673.5 2696.6,3673.5" fill="#8cb4e6"/><polygon points="2701.5,3623.1 2713.4,3623.1 2715.3,3632.3 2703.4,3632.3" fill="#eef6f2"/><polygon points="2704.2,3636.2 2716.1,3636.2 2718.0,3645.4 2706.1,3645.4" fill="#eef6f2"/><polygon points="2706.9,3649.3 2718.8,3649.3 2720.7,3658.5 2708.7,3658.5" fill="#eef6f2"/><polygon points="2709.6,3662.5 2721.5,3662.5 2723.4,3671.7 2711.4,3671.7" fill="#eef6f2"/><polygon points="2719.0,3623.1 2730.1,3623.1 2740.4,3672.4 2729.2,3672.4" fill="#d08a14"/><polygon points="2708.0,3623.9 2721.5,3623.9 2722.6,3629.1 2709.1,3629.1" fill="#6ce49c"/><polygon points="2727.6,3630.2 2733.2,3630.2 2734.0,3634.1 2728.4,3634.1" fill="#8cb4e6"/><polygon points="2710.7,3637.0 2724.2,3637.0 2725.3,3642.3 2711.8,3642.3" fill="#6ce49c"/><polygon points="2730.3,3643.3 2735.9,3643.3 2736.7,3647.2 2731.1,3647.2" fill="#8cb4e6"/><polygon points="2713.4,3650.1 2727.0,3650.1 2728.0,3655.4 2714.5,3655.4" fill="#6ce49c"/><polygon points="2733.1,3656.4 2738.6,3656.4 2739.5,3660.4 2733.9,3660.4" fill="#8cb4e6"/><polygon points="2716.1,3663.3 2729.7,3663.3 2730.8,3668.5 2717.2,3668.5" fill="#6ce49c"/><polygon points="2735.8,3669.6 2741.4,3669.6 2742.2,3673.5 2736.6,3673.5" fill="#8cb4e6"/><polygon points="2741.2,3623.1 2753.1,3623.1 2755.1,3632.3 2743.1,3632.3" fill="#eef6f2"/><polygon points="2744.0,3636.2 2755.9,3636.2 2757.8,3645.4 2745.9,3645.4" fill="#eef6f2"/><polygon points="2746.7,3649.3 2758.7,3649.3 2760.6,3658.5 2748.7,3658.5" fill="#eef6f2"/><polygon points="2749.5,3662.5 2761.5,3662.5 2763.4,3671.7 2751.4,3671.7" fill="#eef6f2"/><polygon points="2758.7,3623.1 2769.8,3623.1 2780.4,3672.4 2769.2,3672.4" fill="#d08a14"/><polygon points="2747.7,3623.9 2761.2,3623.9 2762.3,3629.1 2748.8,3629.1" fill="#6ce49c"/><polygon points="2767.3,3630.2 2772.9,3630.2 2773.7,3634.1 2768.2,3634.1" fill="#8cb4e6"/><polygon points="2750.5,3637.0 2764.0,3637.0 2765.1,3642.3 2751.6,3642.3" fill="#6ce49c"/><polygon points="2770.1,3643.3 2775.7,3643.3 2776.6,3647.2 2771.0,3647.2" fill="#8cb4e6"/><polygon points="2753.3,3650.1 2766.8,3650.1 2767.9,3655.4 2754.4,3655.4" fill="#6ce49c"/><polygon points="2772.9,3656.4 2778.5,3656.4 2779.4,3660.4 2773.8,3660.4" fill="#8cb4e6"/><polygon points="2756.0,3663.3 2769.6,3663.3 2770.7,3668.5 2757.1,3668.5" fill="#6ce49c"/><polygon points="2775.8,3669.6 2781.4,3669.6 2782.2,3673.5 2776.6,3673.5" fill="#8cb4e6"/><polygon points="2780.9,3623.1 2792.8,3623.1 2794.8,3632.3 2782.9,3632.3" fill="#eef6f2"/><polygon points="2783.7,3636.2 2795.7,3636.2 2797.7,3645.4 2785.7,3645.4" fill="#eef6f2"/><polygon points="2786.6,3649.3 2798.5,3649.3 2800.5,3658.5 2788.6,3658.5" fill="#eef6f2"/><polygon points="2789.4,3662.5 2801.4,3662.5 2803.4,3671.7 2791.4,3671.7" fill="#eef6f2"/><polygon points="2798.3,3623.1 2809.5,3623.1 2820.4,3672.4 2809.2,3672.4" fill="#d08a14"/><polygon points="2787.4,3623.9 2800.9,3623.9 2802.0,3629.1 2788.5,3629.1" fill="#6ce49c"/><polygon points="2807.0,3630.2 2812.6,3630.2 2813.5,3634.1 2807.9,3634.1" fill="#8cb4e6"/><polygon points="2790.3,3637.0 2803.8,3637.0 2804.9,3642.3 2791.4,3642.3" fill="#6ce49c"/><polygon points="2809.9,3643.3 2815.5,3643.3 2816.4,3647.2 2810.8,3647.2" fill="#8cb4e6"/><polygon points="2793.1,3650.1 2806.7,3650.1 2807.8,3655.4 2794.3,3655.4" fill="#6ce49c"/><polygon points="2812.8,3656.4 2818.4,3656.4 2819.3,3660.4 2813.7,3660.4" fill="#8cb4e6"/><polygon points="2796.0,3663.3 2809.5,3663.3 2810.7,3668.5 2797.1,3668.5" fill="#6ce49c"/><polygon points="2815.7,3669.6 2821.3,3669.6 2822.2,3673.5 2816.6,3673.5" fill="#8cb4e6"/><polygon points="2820.6,3623.1 2832.5,3623.1 2834.5,3632.3 2822.6,3632.3" fill="#eef6f2"/><polygon points="2823.5,3636.2 2835.4,3636.2 2837.5,3645.4 2825.5,3645.4" fill="#eef6f2"/><polygon points="2826.4,3649.3 2838.4,3649.3 2840.4,3658.5 2828.5,3658.5" fill="#eef6f2"/><polygon points="2829.3,3662.5 2841.3,3662.5 2843.4,3671.7 2831.4,3671.7" fill="#eef6f2"/><polygon points="2838.0,3623.1 2849.1,3623.1 2860.4,3672.4 2849.2,3672.4" fill="#d08a14"/><polygon points="2827.1,3623.9 2840.6,3623.9 2841.8,3629.1 2828.3,3629.1" fill="#6ce49c"/><polygon points="2846.8,3630.2 2852.3,3630.2 2853.2,3634.1 2847.7,3634.1" fill="#8cb4e6"/><polygon points="2830.0,3637.0 2843.5,3637.0 2844.7,3642.3 2831.2,3642.3" fill="#6ce49c"/><polygon points="2849.7,3643.3 2855.3,3643.3 2856.2,3647.2 2850.6,3647.2" fill="#8cb4e6"/><polygon points="2833.0,3650.1 2846.5,3650.1 2847.7,3655.4 2834.1,3655.4" fill="#6ce49c"/><polygon points="2852.7,3656.4 2858.3,3656.4 2859.2,3660.4 2853.6,3660.4" fill="#8cb4e6"/><polygon points="2835.9,3663.3 2849.5,3663.3 2850.7,3668.5 2837.1,3668.5" fill="#6ce49c"/><polygon points="2855.7,3669.6 2861.3,3669.6 2862.2,3673.5 2856.6,3673.5" fill="#8cb4e6"/></g>
<polygon points="2983.0,3621.0 3002.0,3673.5 3002.0,3698.5 2983.0,3635.0" fill="#94bcec" />
<polygon points="2983.0,3621.0 3224.0,3621.0 3243.0,3673.5 3002.0,3673.5" fill="#8cb4e6" />
<rect x="3002.0" y="3673.5" width="241.0" height="25.0" fill="#4f78ad" />
<rect x="3002.0" y="3673.5" width="241.0" height="3.0" fill="#7fa6d8" />
<g><polygon points="2988.6,3623.1 3000.6,3623.1 3004.0,3632.3 2991.9,3632.3" fill="#eef6f2"/><polygon points="2993.3,3636.2 3005.4,3636.2 3008.7,3645.4 2996.7,3645.4" fill="#eef6f2"/><polygon points="2998.1,3649.3 3010.1,3649.3 3013.5,3658.5 3001.4,3658.5" fill="#eef6f2"/><polygon points="3002.8,3662.5 3014.9,3662.5 3018.2,3671.7 3006.2,3671.7" fill="#eef6f2"/><polygon points="3006.3,3623.1 3017.5,3623.1 3035.4,3672.4 3024.1,3672.4" fill="#d08a14"/><polygon points="2995.3,3623.9 3008.9,3623.9 3010.8,3629.1 2997.2,3629.1" fill="#6ce49c"/><polygon points="3016.0,3630.2 3021.7,3630.2 3023.1,3634.1 3017.5,3634.1" fill="#8cb4e6"/><polygon points="3000.0,3637.0 3013.7,3637.0 3015.6,3642.3 3001.9,3642.3" fill="#6ce49c"/><polygon points="3020.8,3643.3 3026.4,3643.3 3027.8,3647.2 3022.2,3647.2" fill="#8cb4e6"/><polygon points="3004.8,3650.1 3018.4,3650.1 3020.3,3655.4 3006.7,3655.4" fill="#6ce49c"/><polygon points="3025.5,3656.4 3031.2,3656.4 3032.6,3660.4 3027.0,3660.4" fill="#8cb4e6"/><polygon points="3009.5,3663.3 3023.2,3663.3 3025.1,3668.5 3011.4,3668.5" fill="#6ce49c"/><polygon points="3030.3,3669.6 3035.9,3669.6 3037.3,3673.5 3031.7,3673.5" fill="#8cb4e6"/><polygon points="3028.7,3623.1 3040.8,3623.1 3044.1,3632.3 3032.1,3632.3" fill="#eef6f2"/><polygon points="3033.5,3636.2 3045.5,3636.2 3048.9,3645.4 3036.8,3645.4" fill="#eef6f2"/><polygon points="3038.2,3649.3 3050.3,3649.3 3053.6,3658.5 3041.6,3658.5" fill="#eef6f2"/><polygon points="3043.0,3662.5 3055.0,3662.5 3058.4,3671.7 3046.3,3671.7" fill="#eef6f2"/><polygon points="3046.4,3623.1 3057.7,3623.1 3075.5,3672.4 3064.3,3672.4" fill="#d08a14"/><polygon points="3035.5,3623.9 3049.1,3623.9 3051.0,3629.1 3037.4,3629.1" fill="#6ce49c"/><polygon points="3056.2,3630.2 3061.8,3630.2 3063.3,3634.1 3057.6,3634.1" fill="#8cb4e6"/><polygon points="3040.2,3637.0 3053.9,3637.0 3055.8,3642.3 3042.1,3642.3" fill="#6ce49c"/><polygon points="3061.0,3643.3 3066.6,3643.3 3068.0,3647.2 3062.4,3647.2" fill="#8cb4e6"/><polygon points="3045.0,3650.1 3058.6,3650.1 3060.5,3655.4 3046.9,3655.4" fill="#6ce49c"/><polygon points="3065.7,3656.4 3071.3,3656.4 3072.8,3660.4 3067.1,3660.4" fill="#8cb4e6"/><polygon points="3049.7,3663.3 3063.4,3663.3 3065.3,3668.5 3051.6,3668.5" fill="#6ce49c"/><polygon points="3070.5,3669.6 3076.1,3669.6 3077.5,3673.5 3071.9,3673.5" fill="#8cb4e6"/><polygon points="3068.9,3623.1 3081.0,3623.1 3084.3,3632.3 3072.2,3632.3" fill="#eef6f2"/><polygon points="3073.7,3636.2 3085.7,3636.2 3089.0,3645.4 3077.0,3645.4" fill="#eef6f2"/><polygon points="3078.4,3649.3 3090.5,3649.3 3093.8,3658.5 3081.7,3658.5" fill="#eef6f2"/><polygon points="3083.2,3662.5 3095.2,3662.5 3098.5,3671.7 3086.5,3671.7" fill="#eef6f2"/><polygon points="3086.6,3623.1 3097.8,3623.1 3115.7,3672.4 3104.4,3672.4" fill="#d08a14"/><polygon points="3075.6,3623.9 3089.3,3623.9 3091.2,3629.1 3077.5,3629.1" fill="#6ce49c"/><polygon points="3096.4,3630.2 3102.0,3630.2 3103.4,3634.1 3097.8,3634.1" fill="#8cb4e6"/><polygon points="3080.4,3637.0 3094.0,3637.0 3095.9,3642.3 3082.3,3642.3" fill="#6ce49c"/><polygon points="3101.1,3643.3 3106.8,3643.3 3108.2,3647.2 3102.6,3647.2" fill="#8cb4e6"/><polygon points="3085.1,3650.1 3098.8,3650.1 3100.7,3655.4 3087.0,3655.4" fill="#6ce49c"/><polygon points="3105.9,3656.4 3111.5,3656.4 3112.9,3660.4 3107.3,3660.4" fill="#8cb4e6"/><polygon points="3089.9,3663.3 3103.5,3663.3 3105.4,3668.5 3091.8,3668.5" fill="#6ce49c"/><polygon points="3110.6,3669.6 3116.3,3669.6 3117.7,3673.5 3112.1,3673.5" fill="#8cb4e6"/><polygon points="3109.1,3623.1 3121.1,3623.1 3124.5,3632.3 3112.4,3632.3" fill="#eef6f2"/><polygon points="3113.8,3636.2 3125.9,3636.2 3129.2,3645.4 3117.2,3645.4" fill="#eef6f2"/><polygon points="3118.6,3649.3 3130.6,3649.3 3134.0,3658.5 3121.9,3658.5" fill="#eef6f2"/><polygon points="3123.3,3662.5 3135.4,3662.5 3138.7,3671.7 3126.7,3671.7" fill="#eef6f2"/><polygon points="3126.8,3623.1 3138.0,3623.1 3155.9,3672.4 3144.6,3672.4" fill="#d08a14"/><polygon points="3115.8,3623.9 3129.4,3623.9 3131.3,3629.1 3117.7,3629.1" fill="#6ce49c"/><polygon points="3136.5,3630.2 3142.2,3630.2 3143.6,3634.1 3138.0,3634.1" fill="#8cb4e6"/><polygon points="3120.5,3637.0 3134.2,3637.0 3136.1,3642.3 3122.4,3642.3" fill="#6ce49c"/><polygon points="3141.3,3643.3 3146.9,3643.3 3148.3,3647.2 3142.7,3647.2" fill="#8cb4e6"/><polygon points="3125.3,3650.1 3138.9,3650.1 3140.8,3655.4 3127.2,3655.4" fill="#6ce49c"/><polygon points="3146.0,3656.4 3151.7,3656.4 3153.1,3660.4 3147.5,3660.4" fill="#8cb4e6"/><polygon points="3130.0,3663.3 3143.7,3663.3 3145.6,3668.5 3131.9,3668.5" fill="#6ce49c"/><polygon points="3150.8,3669.6 3156.4,3669.6 3157.8,3673.5 3152.2,3673.5" fill="#8cb4e6"/><polygon points="3149.2,3623.1 3161.3,3623.1 3164.6,3632.3 3152.6,3632.3" fill="#eef6f2"/><polygon points="3154.0,3636.2 3166.0,3636.2 3169.4,3645.4 3157.3,3645.4" fill="#eef6f2"/><polygon points="3158.7,3649.3 3170.8,3649.3 3174.1,3658.5 3162.1,3658.5" fill="#eef6f2"/><polygon points="3163.5,3662.5 3175.5,3662.5 3178.9,3671.7 3166.8,3671.7" fill="#eef6f2"/><polygon points="3166.9,3623.1 3178.2,3623.1 3196.0,3672.4 3184.8,3672.4" fill="#d08a14"/><polygon points="3156.0,3623.9 3169.6,3623.9 3171.5,3629.1 3157.9,3629.1" fill="#6ce49c"/><polygon points="3176.7,3630.2 3182.3,3630.2 3183.8,3634.1 3178.1,3634.1" fill="#8cb4e6"/><polygon points="3160.7,3637.0 3174.4,3637.0 3176.3,3642.3 3162.6,3642.3" fill="#6ce49c"/><polygon points="3181.5,3643.3 3187.1,3643.3 3188.5,3647.2 3182.9,3647.2" fill="#8cb4e6"/><polygon points="3165.5,3650.1 3179.1,3650.1 3181.0,3655.4 3167.4,3655.4" fill="#6ce49c"/><polygon points="3186.2,3656.4 3191.8,3656.4 3193.3,3660.4 3187.6,3660.4" fill="#8cb4e6"/><polygon points="3170.2,3663.3 3183.9,3663.3 3185.8,3668.5 3172.1,3668.5" fill="#6ce49c"/><polygon points="3191.0,3669.6 3196.6,3669.6 3198.0,3673.5 3192.4,3673.5" fill="#8cb4e6"/><polygon points="3189.4,3623.1 3201.5,3623.1 3204.8,3632.3 3192.7,3632.3" fill="#eef6f2"/><polygon points="3194.2,3636.2 3206.2,3636.2 3209.5,3645.4 3197.5,3645.4" fill="#eef6f2"/><polygon points="3198.9,3649.3 3211.0,3649.3 3214.3,3658.5 3202.2,3658.5" fill="#eef6f2"/><polygon points="3203.7,3662.5 3215.7,3662.5 3219.0,3671.7 3207.0,3671.7" fill="#eef6f2"/><polygon points="3207.1,3623.1 3218.3,3623.1 3236.2,3672.4 3224.9,3672.4" fill="#d08a14"/><polygon points="3196.1,3623.9 3209.8,3623.9 3211.7,3629.1 3198.0,3629.1" fill="#6ce49c"/><polygon points="3216.9,3630.2 3222.5,3630.2 3223.9,3634.1 3218.3,3634.1" fill="#8cb4e6"/><polygon points="3200.9,3637.0 3214.5,3637.0 3216.4,3642.3 3202.8,3642.3" fill="#6ce49c"/><polygon points="3221.6,3643.3 3227.3,3643.3 3228.7,3647.2 3223.1,3647.2" fill="#8cb4e6"/><polygon points="3205.6,3650.1 3219.3,3650.1 3221.2,3655.4 3207.5,3655.4" fill="#6ce49c"/><polygon points="3226.4,3656.4 3232.0,3656.4 3233.4,3660.4 3227.8,3660.4" fill="#8cb4e6"/><polygon points="3210.4,3663.3 3224.0,3663.3 3225.9,3668.5 3212.3,3668.5" fill="#6ce49c"/><polygon points="3231.1,3669.6 3236.8,3669.6 3238.2,3673.5 3232.6,3673.5" fill="#8cb4e6"/></g>
<polygon points="3349.0,3621.0 3383.0,3673.5 3383.0,3698.5 3349.0,3635.0" fill="#94bcec" />
<polygon points="3349.0,3621.0 3579.0,3621.0 3621.0,3673.5 3383.0,3673.5" fill="#8cb4e6" />
<rect x="3383.0" y="3673.5" width="238.0" height="25.0" fill="#4f78ad" />
<rect x="3383.0" y="3673.5" width="238.0" height="3.0" fill="#7fa6d8" />
<g><polygon points="3355.0,3623.1 3366.5,3623.1 3372.5,3632.3 3360.9,3632.3" fill="#eef6f2"/><polygon points="3363.5,3636.2 3375.1,3636.2 3381.2,3645.4 3369.5,3645.4" fill="#eef6f2"/><polygon points="3372.0,3649.3 3383.8,3649.3 3389.8,3658.5 3378.0,3658.5" fill="#eef6f2"/><polygon points="3380.6,3662.5 3392.4,3662.5 3398.5,3671.7 3386.6,3671.7" fill="#eef6f2"/><polygon points="3371.9,3623.1 3382.6,3623.1 3415.6,3672.4 3404.5,3672.4" fill="#d08a14"/><polygon points="3361.6,3623.9 3374.7,3623.9 3378.2,3629.1 3365.1,3629.1" fill="#6ce49c"/><polygon points="3383.5,3630.2 3388.9,3630.2 3391.5,3634.1 3386.1,3634.1" fill="#8cb4e6"/><polygon points="3370.2,3637.0 3383.4,3637.0 3386.9,3642.3 3373.7,3642.3" fill="#6ce49c"/><polygon points="3392.2,3643.3 3397.7,3643.3 3400.3,3647.2 3394.9,3647.2" fill="#8cb4e6"/><polygon points="3378.8,3650.1 3392.1,3650.1 3395.6,3655.4 3382.2,3655.4" fill="#6ce49c"/><polygon points="3401.0,3656.4 3406.5,3656.4 3409.1,3660.4 3403.6,3660.4" fill="#8cb4e6"/><polygon points="3387.4,3663.3 3400.8,3663.3 3404.3,3668.5 3390.8,3668.5" fill="#6ce49c"/><polygon points="3409.7,3669.6 3415.3,3669.6 3417.9,3673.5 3412.4,3673.5" fill="#8cb4e6"/><polygon points="3393.4,3623.1 3404.9,3623.1 3411.2,3632.3 3399.6,3632.3" fill="#eef6f2"/><polygon points="3402.2,3636.2 3413.8,3636.2 3420.1,3645.4 3408.4,3645.4" fill="#eef6f2"/><polygon points="3411.1,3649.3 3422.8,3649.3 3429.1,3658.5 3417.3,3658.5" fill="#eef6f2"/><polygon points="3420.0,3662.5 3431.8,3662.5 3438.1,3671.7 3426.2,3671.7" fill="#eef6f2"/><polygon points="3410.2,3623.1 3421.0,3623.1 3455.3,3672.4 3444.2,3672.4" fill="#d08a14"/><polygon points="3400.0,3623.9 3413.1,3623.9 3416.7,3629.1 3403.6,3629.1" fill="#6ce49c"/><polygon points="3422.1,3630.2 3427.5,3630.2 3430.2,3634.1 3424.8,3634.1" fill="#8cb4e6"/><polygon points="3409.0,3637.0 3422.1,3637.0 3425.7,3642.3 3412.5,3642.3" fill="#6ce49c"/><polygon points="3431.1,3643.3 3436.6,3643.3 3439.3,3647.2 3433.9,3647.2" fill="#8cb4e6"/><polygon points="3417.9,3650.1 3431.2,3650.1 3434.8,3655.4 3421.5,3655.4" fill="#6ce49c"/><polygon points="3440.2,3656.4 3445.7,3656.4 3448.4,3660.4 3442.9,3660.4" fill="#8cb4e6"/><polygon points="3426.8,3663.3 3440.2,3663.3 3443.8,3668.5 3430.4,3668.5" fill="#6ce49c"/><polygon points="3449.3,3669.6 3454.8,3669.6 3457.6,3673.5 3452.0,3673.5" fill="#8cb4e6"/><polygon points="3431.7,3623.1 3443.3,3623.1 3449.8,3632.3 3438.2,3632.3" fill="#eef6f2"/><polygon points="3440.9,3636.2 3452.6,3636.2 3459.1,3645.4 3447.4,3645.4" fill="#eef6f2"/><polygon points="3450.2,3649.3 3461.9,3649.3 3468.4,3658.5 3456.6,3658.5" fill="#eef6f2"/><polygon points="3459.4,3662.5 3471.2,3662.5 3477.7,3671.7 3465.8,3671.7" fill="#eef6f2"/><polygon points="3448.6,3623.1 3459.4,3623.1 3494.9,3672.4 3483.8,3672.4" fill="#d08a14"/><polygon points="3438.4,3623.9 3451.5,3623.9 3455.2,3629.1 3442.1,3629.1" fill="#6ce49c"/><polygon points="3460.6,3630.2 3466.0,3630.2 3468.9,3634.1 3463.4,3634.1" fill="#8cb4e6"/><polygon points="3447.7,3637.0 3460.9,3637.0 3464.6,3642.3 3451.4,3642.3" fill="#6ce49c"/><polygon points="3470.0,3643.3 3475.5,3643.3 3478.3,3647.2 3472.9,3647.2" fill="#8cb4e6"/><polygon points="3457.0,3650.1 3470.2,3650.1 3474.0,3655.4 3460.7,3655.4" fill="#6ce49c"/><polygon points="3479.4,3656.4 3484.9,3656.4 3487.8,3660.4 3482.3,3660.4" fill="#8cb4e6"/><polygon points="3466.2,3663.3 3479.6,3663.3 3483.4,3668.5 3469.9,3668.5" fill="#6ce49c"/><polygon points="3488.9,3669.6 3494.4,3669.6 3497.2,3673.5 3491.7,3673.5" fill="#8cb4e6"/><polygon points="3470.1,3623.1 3481.6,3623.1 3488.4,3632.3 3476.8,3632.3" fill="#eef6f2"/><polygon points="3479.7,3636.2 3491.3,3636.2 3498.0,3645.4 3486.3,3645.4" fill="#eef6f2"/><polygon points="3489.2,3649.3 3500.9,3649.3 3507.7,3658.5 3495.9,3658.5" fill="#eef6f2"/><polygon points="3498.7,3662.5 3510.6,3662.5 3517.3,3671.7 3505.4,3671.7" fill="#eef6f2"/><polygon points="3487.0,3623.1 3497.8,3623.1 3534.5,3672.4 3523.4,3672.4" fill="#d08a14"/><polygon points="3476.8,3623.9 3489.9,3623.9 3493.8,3629.1 3480.7,3629.1" fill="#6ce49c"/><polygon points="3499.2,3630.2 3504.6,3630.2 3507.5,3634.1 3502.1,3634.1" fill="#8cb4e6"/><polygon points="3486.4,3637.0 3499.6,3637.0 3503.5,3642.3 3490.3,3642.3" fill="#6ce49c"/><polygon points="3508.9,3643.3 3514.4,3643.3 3517.3,3647.2 3511.9,3647.2" fill="#8cb4e6"/><polygon points="3496.0,3650.1 3509.3,3650.1 3513.2,3655.4 3499.9,3655.4" fill="#6ce49c"/><polygon points="3518.7,3656.4 3524.2,3656.4 3527.1,3660.4 3521.6,3660.4" fill="#8cb4e6"/><polygon points="3505.6,3663.3 3519.0,3663.3 3522.9,3668.5 3509.5,3668.5" fill="#6ce49c"/><polygon points="3528.4,3669.6 3534.0,3669.6 3536.9,3673.5 3531.4,3673.5" fill="#8cb4e6"/><polygon points="3508.5,3623.1 3520.0,3623.1 3527.0,3632.3 3515.4,3632.3" fill="#eef6f2"/><polygon points="3518.4,3636.2 3530.0,3636.2 3537.0,3645.4 3525.3,3645.4" fill="#eef6f2"/><polygon points="3528.3,3649.3 3540.0,3649.3 3547.0,3658.5 3535.2,3658.5" fill="#eef6f2"/><polygon points="3538.1,3662.5 3549.9,3662.5 3556.9,3671.7 3545.0,3671.7" fill="#eef6f2"/><polygon points="3525.4,3623.1 3536.2,3623.1 3574.2,3672.4 3563.1,3672.4" fill="#d08a14"/><polygon points="3515.3,3623.9 3528.3,3623.9 3532.3,3629.1 3519.2,3629.1" fill="#6ce49c"/><polygon points="3537.8,3630.2 3543.2,3630.2 3546.2,3634.1 3540.8,3634.1" fill="#8cb4e6"/><polygon points="3525.2,3637.0 3538.3,3637.0 3542.4,3642.3 3529.1,3642.3" fill="#6ce49c"/><polygon points="3547.8,3643.3 3553.3,3643.3 3556.3,3647.2 3550.9,3647.2" fill="#8cb4e6"/><polygon points="3535.1,3650.1 3548.4,3650.1 3552.4,3655.4 3539.1,3655.4" fill="#6ce49c"/><polygon points="3557.9,3656.4 3563.4,3656.4 3566.4,3660.4 3560.9,3660.4" fill="#8cb4e6"/><polygon points="3545.0,3663.3 3558.4,3663.3 3562.4,3668.5 3549.0,3668.5" fill="#6ce49c"/><polygon points="3568.0,3669.6 3573.5,3669.6 3576.6,3673.5 3571.0,3673.5" fill="#8cb4e6"/><polygon points="3546.9,3623.1 3558.4,3623.1 3565.6,3632.3 3554.0,3632.3" fill="#eef6f2"/><polygon points="3557.1,3636.2 3568.7,3636.2 3575.9,3645.4 3564.3,3645.4" fill="#eef6f2"/><polygon points="3567.3,3649.3 3579.0,3649.3 3586.2,3658.5 3574.5,3658.5" fill="#eef6f2"/><polygon points="3577.5,3662.5 3589.3,3662.5 3596.6,3671.7 3584.7,3671.7" fill="#eef6f2"/><polygon points="3563.8,3623.1 3574.5,3623.1 3613.8,3672.4 3602.7,3672.4" fill="#d08a14"/><polygon points="3553.7,3623.9 3566.7,3623.9 3570.9,3629.1 3557.8,3629.1" fill="#6ce49c"/><polygon points="3576.3,3630.2 3581.7,3630.2 3584.9,3634.1 3579.4,3634.1" fill="#8cb4e6"/><polygon points="3563.9,3637.0 3577.1,3637.0 3581.2,3642.3 3568.0,3642.3" fill="#6ce49c"/><polygon points="3586.7,3643.3 3592.2,3643.3 3595.3,3647.2 3589.9,3647.2" fill="#8cb4e6"/><polygon points="3574.2,3650.1 3587.5,3650.1 3591.6,3655.4 3578.3,3655.4" fill="#6ce49c"/><polygon points="3597.1,3656.4 3602.6,3656.4 3605.8,3660.4 3600.3,3660.4" fill="#8cb4e6"/><polygon points="3584.4,3663.3 3597.8,3663.3 3602.0,3668.5 3588.5,3668.5" fill="#6ce49c"/><polygon points="3607.6,3669.6 3613.1,3669.6 3616.2,3673.5 3610.7,3673.5" fill="#8cb4e6"/></g>
<polygon points="3717.0,3621.0 3759.0,3673.5 3759.0,3698.5 3717.0,3635.0" fill="#94bcec" />
<polygon points="3717.0,3621.0 3952.0,3621.0 3998.0,3673.5 3759.0,3673.5" fill="#8cb4e6" />
<rect x="3759.0" y="3673.5" width="239.0" height="25.0" fill="#4f78ad" />
<rect x="3759.0" y="3673.5" width="239.0" height="3.0" fill="#7fa6d8" />
<g><polygon points="3723.4,3623.1 3735.1,3623.1 3742.5,3632.3 3730.7,3632.3" fill="#eef6f2"/><polygon points="3733.9,3636.2 3745.7,3636.2 3753.1,3645.4 3741.3,3645.4" fill="#eef6f2"/><polygon points="3744.4,3649.3 3756.3,3649.3 3763.7,3658.5 3751.8,3658.5" fill="#eef6f2"/><polygon points="3754.9,3662.5 3766.9,3662.5 3774.3,3671.7 3762.3,3671.7" fill="#eef6f2"/><polygon points="3740.6,3623.1 3751.6,3623.1 3791.6,3672.4 3780.5,3672.4" fill="#d08a14"/><polygon points="3730.3,3623.9 3743.6,3623.9 3747.9,3629.1 3734.5,3629.1" fill="#6ce49c"/><polygon points="3753.4,3630.2 3758.9,3630.2 3762.1,3634.1 3756.6,3634.1" fill="#8cb4e6"/><polygon points="3740.8,3637.0 3754.2,3637.0 3758.5,3642.3 3745.1,3642.3" fill="#6ce49c"/><polygon points="3764.0,3643.3 3769.6,3643.3 3772.8,3647.2 3767.2,3647.2" fill="#8cb4e6"/><polygon points="3751.4,3650.1 3764.8,3650.1 3769.1,3655.4 3755.6,3655.4" fill="#6ce49c"/><polygon points="3774.7,3656.4 3780.2,3656.4 3783.4,3660.4 3777.9,3660.4" fill="#8cb4e6"/><polygon points="3761.9,3663.3 3775.4,3663.3 3779.7,3668.5 3766.1,3668.5" fill="#6ce49c"/><polygon points="3785.3,3669.6 3790.9,3669.6 3794.1,3673.5 3788.5,3673.5" fill="#8cb4e6"/><polygon points="3762.6,3623.1 3774.3,3623.1 3781.9,3632.3 3770.1,3632.3" fill="#eef6f2"/><polygon points="3773.3,3636.2 3785.1,3636.2 3792.6,3645.4 3780.7,3645.4" fill="#eef6f2"/><polygon points="3783.9,3649.3 3795.8,3649.3 3803.3,3658.5 3791.4,3658.5" fill="#eef6f2"/><polygon points="3794.6,3662.5 3806.5,3662.5 3814.1,3671.7 3802.1,3671.7" fill="#eef6f2"/><polygon points="3779.8,3623.1 3790.8,3623.1 3831.4,3672.4 3820.3,3672.4" fill="#d08a14"/><polygon points="3769.5,3623.9 3782.8,3623.9 3787.1,3629.1 3773.8,3629.1" fill="#6ce49c"/><polygon points="3792.7,3630.2 3798.2,3630.2 3801.4,3634.1 3795.9,3634.1" fill="#8cb4e6"/><polygon points="3780.2,3637.0 3793.6,3637.0 3797.9,3642.3 3784.5,3642.3" fill="#6ce49c"/><polygon points="3803.5,3643.3 3809.0,3643.3 3812.3,3647.2 3806.7,3647.2" fill="#8cb4e6"/><polygon points="3790.9,3650.1 3804.4,3650.1 3808.7,3655.4 3795.2,3655.4" fill="#6ce49c"/><polygon points="3814.3,3656.4 3819.8,3656.4 3823.1,3660.4 3817.5,3660.4" fill="#8cb4e6"/><polygon points="3801.6,3663.3 3815.1,3663.3 3819.4,3668.5 3805.9,3668.5" fill="#6ce49c"/><polygon points="3825.1,3669.6 3830.6,3669.6 3833.9,3673.5 3828.3,3673.5" fill="#8cb4e6"/><polygon points="3801.8,3623.1 3813.5,3623.1 3821.2,3632.3 3809.4,3632.3" fill="#eef6f2"/><polygon points="3812.6,3636.2 3824.4,3636.2 3832.1,3645.4 3820.2,3645.4" fill="#eef6f2"/><polygon points="3823.5,3649.3 3835.3,3649.3 3843.0,3658.5 3831.1,3658.5" fill="#eef6f2"/><polygon points="3834.3,3662.5 3846.2,3662.5 3853.9,3671.7 3841.9,3671.7" fill="#eef6f2"/><polygon points="3819.0,3623.1 3830.0,3623.1 3871.2,3672.4 3860.1,3672.4" fill="#d08a14"/><polygon points="3808.7,3623.9 3822.0,3623.9 3826.4,3629.1 3813.0,3629.1" fill="#6ce49c"/><polygon points="3832.0,3630.2 3837.5,3630.2 3840.8,3634.1 3835.3,3634.1" fill="#8cb4e6"/><polygon points="3819.6,3637.0 3833.0,3637.0 3837.3,3642.3 3823.9,3642.3" fill="#6ce49c"/><polygon points="3842.9,3643.3 3848.5,3643.3 3851.8,3647.2 3846.2,3647.2" fill="#8cb4e6"/><polygon points="3830.5,3650.1 3843.9,3650.1 3848.3,3655.4 3834.8,3655.4" fill="#6ce49c"/><polygon points="3853.9,3656.4 3859.4,3656.4 3862.7,3660.4 3857.2,3660.4" fill="#8cb4e6"/><polygon points="3841.3,3663.3 3854.8,3663.3 3859.2,3668.5 3845.7,3668.5" fill="#6ce49c"/><polygon points="3864.9,3669.6 3870.4,3669.6 3873.7,3673.5 3868.1,3673.5" fill="#8cb4e6"/><polygon points="3841.0,3623.1 3852.7,3623.1 3860.5,3632.3 3848.7,3632.3" fill="#eef6f2"/><polygon points="3852.0,3636.2 3863.8,3636.2 3871.5,3645.4 3859.7,3645.4" fill="#eef6f2"/><polygon points="3863.0,3649.3 3874.9,3649.3 3882.6,3658.5 3870.7,3658.5" fill="#eef6f2"/><polygon points="3874.0,3662.5 3885.9,3662.5 3893.7,3671.7 3881.7,3671.7" fill="#eef6f2"/><polygon points="3858.2,3623.1 3869.2,3623.1 3911.1,3672.4 3899.9,3672.4" fill="#d08a14"/><polygon points="3847.9,3623.9 3861.2,3623.9 3865.7,3629.1 3852.3,3629.1" fill="#6ce49c"/><polygon points="3871.3,3630.2 3876.8,3630.2 3880.1,3634.1 3874.6,3634.1" fill="#8cb4e6"/><polygon points="3858.9,3637.0 3872.3,3637.0 3876.8,3642.3 3863.4,3642.3" fill="#6ce49c"/><polygon points="3882.4,3643.3 3887.9,3643.3 3891.3,3647.2 3885.7,3647.2" fill="#8cb4e6"/><polygon points="3870.0,3650.1 3883.4,3650.1 3887.9,3655.4 3874.4,3655.4" fill="#6ce49c"/><polygon points="3893.5,3656.4 3899.1,3656.4 3902.4,3660.4 3896.9,3660.4" fill="#8cb4e6"/><polygon points="3881.0,3663.3 3894.5,3663.3 3899.0,3668.5 3885.5,3668.5" fill="#6ce49c"/><polygon points="3904.6,3669.6 3910.2,3669.6 3913.6,3673.5 3908.0,3673.5" fill="#8cb4e6"/><polygon points="3880.2,3623.1 3891.9,3623.1 3899.8,3632.3 3888.0,3632.3" fill="#eef6f2"/><polygon points="3891.3,3636.2 3903.2,3636.2 3911.0,3645.4 3899.2,3645.4" fill="#eef6f2"/><polygon points="3902.5,3649.3 3914.4,3649.3 3922.3,3658.5 3910.4,3658.5" fill="#eef6f2"/><polygon points="3913.7,3662.5 3925.6,3662.5 3933.5,3671.7 3921.5,3671.7" fill="#eef6f2"/><polygon points="3897.4,3623.1 3908.4,3623.1 3950.9,3672.4 3939.7,3672.4" fill="#d08a14"/><polygon points="3887.1,3623.9 3900.4,3623.9 3904.9,3629.1 3891.6,3629.1" fill="#6ce49c"/><polygon points="3910.6,3630.2 3916.1,3630.2 3919.4,3634.1 3913.9,3634.1" fill="#8cb4e6"/><polygon points="3898.3,3637.0 3911.7,3637.0 3916.2,3642.3 3902.8,3642.3" fill="#6ce49c"/><polygon points="3921.8,3643.3 3927.4,3643.3 3930.8,3647.2 3925.2,3647.2" fill="#8cb4e6"/><polygon points="3909.5,3650.1 3923.0,3650.1 3927.5,3655.4 3914.0,3655.4" fill="#6ce49c"/><polygon points="3933.1,3656.4 3938.7,3656.4 3942.1,3660.4 3936.5,3660.4" fill="#8cb4e6"/><polygon points="3920.7,3663.3 3934.2,3663.3 3938.7,3668.5 3925.2,3668.5" fill="#6ce49c"/><polygon points="3944.4,3669.6 3950.0,3669.6 3953.4,3673.5 3947.8,3673.5" fill="#8cb4e6"/><polygon points="3919.3,3623.1 3931.1,3623.1 3939.1,3632.3 3927.3,3632.3" fill="#eef6f2"/><polygon points="3930.7,3636.2 3942.5,3636.2 3950.5,3645.4 3938.7,3645.4" fill="#eef6f2"/><polygon points="3942.1,3649.3 3953.9,3649.3 3961.9,3658.5 3950.0,3658.5" fill="#eef6f2"/><polygon points="3953.4,3662.5 3965.3,3662.5 3973.3,3671.7 3961.4,3671.7" fill="#eef6f2"/><polygon points="3936.6,3623.1 3947.6,3623.1 3990.7,3672.4 3979.6,3672.4" fill="#d08a14"/><polygon points="3926.3,3623.9 3939.6,3623.9 3944.2,3629.1 3930.9,3629.1" fill="#6ce49c"/><polygon points="3949.8,3630.2 3955.3,3630.2 3958.8,3634.1 3953.3,3634.1" fill="#8cb4e6"/><polygon points="3937.7,3637.0 3951.1,3637.0 3955.6,3642.3 3942.2,3642.3" fill="#6ce49c"/><polygon points="3961.3,3643.3 3966.8,3643.3 3970.3,3647.2 3964.7,3647.2" fill="#8cb4e6"/><polygon points="3949.1,3650.1 3962.5,3650.1 3967.1,3655.4 3953.6,3655.4" fill="#6ce49c"/><polygon points="3972.7,3656.4 3978.3,3656.4 3981.7,3660.4 3976.2,3660.4" fill="#8cb4e6"/><polygon points="3960.4,3663.3 3973.9,3663.3 3978.5,3668.5 3965.0,3668.5" fill="#6ce49c"/><polygon points="3984.2,3669.6 3989.8,3669.6 3993.2,3673.5 3987.6,3673.5" fill="#8cb4e6"/></g>
<rect x="252.0" y="3789.0" width="3955.0" height="38.0" fill="url(#topg)" />
<rect x="252.0" y="3825.0" width="3955.0" height="5.0" fill="#fafafa" />
<rect x="262.0" y="3829.0" width="3945.0" height="255.0" fill="url(#baseg)" />
<polygon points="560.0,3830.0 760.0,3830.0 620.0,4084.0 420.0,4084.0" fill="#ffffff" opacity="0.12"/>
<polygon points="1750.0,3830.0 1900.0,3830.0 1800.0,4084.0 1650.0,4084.0" fill="#ffffff" opacity="0.10"/>
<polygon points="2480.0,3830.0 2545.0,3830.0 2500.0,4084.0 2440.0,4084.0" fill="#ffffff" opacity="0.12"/>
<rect x="262.0" y="4083.0" width="3945.0" height="8.0" fill="#626262" />
<rect x="262.0" y="4091.0" width="3945.0" height="49.0" fill="url(#shadow)" />
<rect x="252.0" y="2853.0" width="944.0" height="52.0" fill="#dbdbdb" />
<rect x="252.0" y="2846.0" width="944.0" height="8.0" fill="#fcfcfc" />
<rect x="252.0" y="2900.0" width="944.0" height="6.0" fill="#e4e4e4" />
<rect x="251.0" y="2853.0" width="45.0" height="940.0" fill="url(#fc1)" />
<rect x="296.0" y="2906.0" width="16.0" height="887.0" fill="#909090" />
<rect x="1143.0" y="2853.0" width="45.0" height="940.0" fill="#d9d9d9" />
<rect x="1187.0" y="2906.0" width="9.0" height="887.0" fill="#a8a8a8" />
<rect x="1263.0" y="2854.0" width="950.0" height="50.0" fill="url(#fc2)" />
<rect x="1263.0" y="2847.0" width="950.0" height="8.0" fill="#e8e8e8" />
<rect x="1263.0" y="2903.0" width="950.0" height="4.0" fill="#e2e2e2" />
<rect x="1263.0" y="2854.0" width="42.0" height="939.0" fill="url(#fc2)" />
<rect x="1305.0" y="2906.0" width="9.0" height="887.0" fill="#a8a8a8" />
<rect x="2154.0" y="2854.0" width="46.0" height="939.0" fill="url(#fc2)" />
<rect x="2200.0" y="2742.0" width="12.0" height="899.0" fill="#b4b4b4" />
<rect x="2271.0" y="2855.0" width="936.0" height="50.0" fill="url(#fc3)" />
<rect x="2271.0" y="2848.0" width="936.0" height="8.0" fill="#e6e6e6" />
<rect x="2271.0" y="2904.0" width="936.0" height="4.0" fill="#e0e0e0" />
<rect x="2271.0" y="2855.0" width="42.0" height="938.0" fill="url(#fc3)" />
<rect x="3154.0" y="2906.0" width="9.0" height="887.0" fill="#e0e0e0" />
<rect x="3163.0" y="2855.0" width="44.0" height="938.0" fill="url(#fc3)" />
<rect x="3262.0" y="2854.0" width="945.0" height="48.0" fill="url(#fc4)" />
<rect x="3262.0" y="2846.0" width="945.0" height="8.0" fill="#fbfbfb" />
<rect x="3262.0" y="2902.0" width="945.0" height="5.0" fill="#d2d2d2" />
<rect x="3262.0" y="2906.0" width="9.0" height="887.0" fill="#dcdcdc" />
<rect x="3271.0" y="2854.0" width="45.0" height="939.0" fill="url(#fc4)" />
<rect x="4150.0" y="2906.0" width="16.0" height="887.0" fill="#e4e4e4" />
<rect x="4166.0" y="2854.0" width="41.0" height="939.0" fill="url(#fc4)" />
<polygon points="1787.0,2255.0 2032.0,2207.0 2674.0,2258.0 2531.0,2300.0 2241.0,2300.0 2155.0,2291.0" fill="url(#vent)" />
<polygon points="2531.0,2300.0 2674.0,2258.0 2674.0,2672.0 2531.0,2722.0" fill="#4b4b4b" />
<polygon points="2531.0,2300.0 2674.0,2258.0 2674.0,2275.0 2531.0,2318.0" fill="#3a3a3a" />
<rect x="2585.0" y="2296.0" width="22.0" height="14.0" fill="#151515" />
<rect x="2598.0" y="2282.0" width="34.0" height="16.0" fill="#151515" />
<rect x="2560.0" y="2500.0" width="18.0" height="26.0" fill="#151515" />
<rect x="2562.0" y="2640.0" width="16.0" height="24.0" fill="#151515" />
<rect x="2598.0" y="2662.0" width="30.0" height="16.0" fill="#151515" />
<rect x="2566.0" y="2690.0" width="18.0" height="14.0" fill="#151515" />
<rect x="2652.0" y="2588.0" width="8.0" height="30.0" fill="#e6e6e6" />
<polygon points="1787.0,2255.0 1987.0,2275.0 1987.0,2672.0 1789.0,2633.0" fill="url(#plcL)" />
<polygon points="1796.0,2258.0 1984.0,2277.0 1984.0,2360.0 1796.0,2352.0" fill="#2c2c2c" />
<polygon points="1987.0,2275.0 2155.0,2291.0 2155.0,2705.0 1987.0,2672.0" fill="#2a2a2a" />
<polygon points="2014.0,2385.0 2040.0,2388.0 2040.0,2655.0 2014.0,2650.0" fill="#141414" />
<polygon points="2045.0,2300.0 2110.0,2306.0 2110.0,2490.0 2045.0,2484.0" fill="#343434" />
<polygon points="2045.0,2494.0 2110.0,2500.0 2110.0,2690.0 2045.0,2680.0" fill="#363636" />
<polygon points="2112.0,2310.0 2152.0,2314.0 2152.0,2480.0 2112.0,2476.0" fill="#1a1a1a" />
<rect x="2118.0" y="2340.0" width="14.0" height="5.0" fill="#d8d8d8" />
<rect x="2118.0" y="2356.0" width="14.0" height="5.0" fill="#d8d8d8" />
<rect x="2118.0" y="2374.0" width="14.0" height="5.0" fill="#d8d8d8" />
<rect x="2118.0" y="2444.0" width="14.0" height="5.0" fill="#d8d8d8" />
<rect x="2118.0" y="2464.0" width="14.0" height="5.0" fill="#d8d8d8" />
<polygon points="2157.0,2288.0 2242.0,2296.0 2242.0,2712.0 2157.0,2706.0" fill="url(#silver)" />
<rect x="2164.0" y="2343.0" width="32.0" height="6.0" fill="#555" />
<rect x="2164.0" y="2362.0" width="68.0" height="7.0" fill="#444" />
<rect x="2196.0" y="2555.0" width="40.0" height="4.0" fill="#999" />
<rect x="2200.0" y="2640.0" width="36.0" height="3.0" fill="#999" />
<rect x="2178.0" y="2690.0" width="34.0" height="5.0" fill="#888" />
<rect x="2184.0" y="2702.0" width="26.0" height="4.0" fill="#888" />
<rect x="2242.0" y="2300.0" width="208.0" height="429.0" fill="#2b2b2b" />
<rect x="2242.0" y="2300.0" width="20.0" height="429.0" fill="#1b1b1b" />
<rect x="2295.0" y="2312.0" width="98.0" height="210.0" fill="#353535" />
<rect x="2300.0" y="2318.0" width="60.0" height="200.0" fill="#2c2c2c" />
<rect x="2297.0" y="2526.0" width="100.0" height="84.0" fill="#3a3a3a" />
<rect x="2297.0" y="2622.0" width="100.0" height="82.0" fill="#3a3a3a" />
<rect x="2300.0" y="2532.0" width="18.0" height="68.0" fill="#0e0e0e" />
<rect x="2300.0" y="2628.0" width="18.0" height="68.0" fill="#0e0e0e" />
<rect x="2334.0" y="2536.0" width="50.0" height="60.0" fill="#111" />
<rect x="2334.0" y="2632.0" width="50.0" height="60.0" fill="#111" />
<rect x="2266.0" y="2546.0" width="18.0" height="5.0" fill="#cfcfcf" />
<rect x="2266.0" y="2564.0" width="18.0" height="5.0" fill="#cfcfcf" />
<rect x="2266.0" y="2584.0" width="18.0" height="5.0" fill="#cfcfcf" />
<rect x="2266.0" y="2640.0" width="18.0" height="5.0" fill="#cfcfcf" />
<rect x="2266.0" y="2658.0" width="18.0" height="5.0" fill="#cfcfcf" />
<rect x="2266.0" y="2676.0" width="18.0" height="5.0" fill="#cfcfcf" />
<rect x="2450.0" y="2300.0" width="81.0" height="422.0" fill="#222222" />
<rect x="2452.0" y="2300.0" width="18.0" height="422.0" fill="#2e2e2e" />
<ellipse cx="2222" cy="2232" rx="24" ry="9" fill="#e9a51f" transform="rotate(-12 2222 2232)"/>
<ellipse cx="2562" cy="2264" rx="26" ry="9" fill="#e9a51f" transform="rotate(-14 2562 2264)"/>
<rect x="2767" y="1230" width="691" height="420" rx="22" fill="#474747"/>
<rect x="2793.0" y="1253.0" width="639.0" height="29.0" fill="#f4f4f4" />
<rect x="2793.0" y="1282.0" width="639.0" height="40.0" fill="#232323" />
<rect x="2793.0" y="1275.0" width="639.0" height="8.0" fill="#9a9a9a" />
<rect x="2822.0" y="1285.0" width="52.0" height="13.0" fill="#cfcfcf" />
<rect x="2917.0" y="1285.0" width="61.0" height="13.0" fill="#cfcfcf" />
<rect x="3020.0" y="1285.0" width="52.0" height="13.0" fill="#cfcfcf" />
<rect x="3100.0" y="1285.0" width="90.0" height="13.0" fill="#cfcfcf" />
<rect x="2818.0" y="1302.0" width="28.0" height="14.0" fill="#e8e8e8" />
<rect x="3381.0" y="1290.0" width="21.0" height="22.0" fill="#3b8ad0" />
<rect x="3408.0" y="1290.0" width="20.0" height="22.0" fill="#e0e0e0" />
<rect x="2793.0" y="1322.0" width="639.0" height="132.0" fill="#4e4e4e" />
<rect x="2793.0" y="1454.0" width="639.0" height="14.0" fill="#ececec" />
<g stroke="#9a9a9a" stroke-width="2" opacity="0.55"><path d="M2878 1336V1452"/><path d="M2906 1336V1452"/><path d="M2935 1336V1452"/><path d="M2964 1336V1452"/><path d="M2992 1336V1452"/><path d="M3020 1336V1452"/><path d="M3049 1336V1452"/><path d="M3078 1336V1452"/><path d="M3106 1336V1452"/><path d="M3134 1336V1452"/><path d="M3163 1336V1452"/><path d="M3192 1336V1452"/><path d="M3220 1336V1452"/><path d="M3248 1336V1452"/><path d="M3277 1336V1452"/><path d="M3306 1336V1452"/><path d="M3334 1336V1452"/><path d="M3362 1336V1452"/><path d="M3391 1336V1452"/><path d="M3420 1336V1452"/></g>
<path d="M2793 1344h20" stroke="#c9706a" stroke-width="4"/>
<path d="M2878 1344H3424" stroke="#c9706a" stroke-width="3" fill="none"/>
<rect x="2793.0" y="1470.0" width="639.0" height="26.0" fill="#1a1a1a" />
<path d="M2793 1358h20" stroke="#5a86b8" stroke-width="4"/>
<path d="M2878 1358H3424" stroke="#5a86b8" stroke-width="3" fill="none"/>
<rect x="2793.0" y="1470.0" width="639.0" height="26.0" fill="#1a1a1a" />
<path d="M2793 1373h20" stroke="#7aa65a" stroke-width="4"/>
<path d="M2878 1373H3424" stroke="#7aa65a" stroke-width="3" fill="none"/>
<rect x="2793.0" y="1470.0" width="639.0" height="26.0" fill="#1a1a1a" />
<path d="M2793 1387h20" stroke="#9a6cc0" stroke-width="4"/>
<path d="M2878 1383h18l4 6h50l4 -8h46l4 8H3424" stroke="#9a6cc0" stroke-width="3" fill="none"/>
<rect x="2793.0" y="1470.0" width="639.0" height="26.0" fill="#1a1a1a" />
<path d="M2793 1401h20" stroke="#e0a040" stroke-width="4"/>
<path d="M2878 1397h18l4 6h50l4 -8h46l4 8H3424" stroke="#e0a040" stroke-width="3" fill="none"/>
<rect x="2793.0" y="1470.0" width="639.0" height="26.0" fill="#1a1a1a" />
<path d="M2793 1416h20" stroke="#d070b0" stroke-width="4"/>
<path d="M2878 1416h30l4 -7h46l4 7h52l4 -7h44l4 7H3424" stroke="#d070b0" stroke-width="3" fill="none"/>
<rect x="2793.0" y="1470.0" width="639.0" height="26.0" fill="#1a1a1a" />
<path d="M2793 1430h20" stroke="#5aa8a8" stroke-width="4"/>
<path d="M2878 1430h30l4 -7h46l4 7h52l4 -7h44l4 7H3424" stroke="#5aa8a8" stroke-width="3" fill="none"/>
<rect x="2793.0" y="1470.0" width="639.0" height="26.0" fill="#1a1a1a" />
<path d="M2793 1444h20" stroke="#b8b85a" stroke-width="4"/>
<path d="M2878 1444H3424" stroke="#b8b85a" stroke-width="3" fill="none"/>
<rect x="2793.0" y="1470.0" width="639.0" height="26.0" fill="#1a1a1a" />
<rect x="2880.0" y="1478.0" width="40.0" height="12.0" fill="#bdbdbd" />
<rect x="2926.0" y="1478.0" width="24.0" height="12.0" fill="#9a9a9a" />
<rect x="2955.0" y="1478.0" width="41.0" height="12.0" fill="#d8d8d8" />
<rect x="2793.0" y="1496.0" width="639.0" height="122.0" fill="#f8f8fa" />
<path d="M2918 1575l10.5 -6 7.9 8 10.5 -10 9.2 4 7.9 24 10.5 -30 10.5 6 13.1 -4 13.1 6 13.1 -6 10.5 4 7.9 14 10.5 -14 13.1 -8 10.5 8 10.5 -10 10.5 12 7.9 -16 10.5 12 10.5 -6 6.6 -54 13.1 62 7.9 8 10.5 -18 10.5 10 10.5 -8 10.5 12 10.5 -12 13.1 2 10.5 -4 7.9 50 10.5 -42 10.5 -6 10.5 6 10.5 -8 10.5 10 10.5 -4 7.9 12" stroke="#86b040" stroke-width="4" fill="none" stroke-linejoin="round"/>
<rect x="2793.0" y="1618.0" width="639.0" height="24.0" fill="#1c1c1c" />
<rect x="2797.0" y="1625.0" width="8.0" height="10.0" fill="#888" />
<rect x="2814.5" y="1625.0" width="8.0" height="10.0" fill="#666" />
<rect x="2832.0" y="1625.0" width="8.0" height="10.0" fill="#3a78c0" />
<rect x="2849.5" y="1625.0" width="8.0" height="10.0" fill="#d08030" />
<rect x="2867.0" y="1625.0" width="8.0" height="10.0" fill="#3a78c0" />
<rect x="2884.5" y="1625.0" width="8.0" height="10.0" fill="#c0a040" />
<rect x="2902.0" y="1625.0" width="8.0" height="10.0" fill="#50a0a0" />
<rect x="2919.5" y="1625.0" width="8.0" height="10.0" fill="#50a0d0" />
<rect x="2937.0" y="1625.0" width="8.0" height="10.0" fill="#d0c040" />
<rect x="2954.5" y="1625.0" width="8.0" height="10.0" fill="#50a0d0" />
<rect x="2972.0" y="1625.0" width="8.0" height="10.0" fill="#a080c0" />
<rect x="2989.5" y="1625.0" width="8.0" height="10.0" fill="#60a0a0" />
<rect x="3007.0" y="1625.0" width="8.0" height="10.0" fill="#e0e0e0" />
<rect x="3024.5" y="1625.0" width="8.0" height="10.0" fill="#e09030" />
<rect x="3042.0" y="1625.0" width="8.0" height="10.0" fill="#50a060" />
<rect x="3059.5" y="1625.0" width="8.0" height="10.0" fill="#c09030" />
<rect x="3077.0" y="1625.0" width="8.0" height="10.0" fill="#ccc" />
<rect x="3094.5" y="1625.0" width="8.0" height="10.0" fill="#ccc" />
<polygon points="2768.0,1643.0 3458.0,1643.0 3586.0,1735.0 2638.0,1735.0" fill="url(#kb)" />
<polygon points="2800.0,1652.0 3425.0,1652.0 3500.0,1706.0 2725.0,1706.0" fill="#141414" />
<g stroke="#333" stroke-width="2"><path d="M2785 1663H3440"/><path d="M2770 1674H3455"/><path d="M2755 1684H3470"/><path d="M2740 1695H3485"/></g>
<polygon points="2930.0,1700.0 3122.0,1700.0 3128.0,1726.0 2916.0,1726.0" fill="#3a3a3a" />
<path d="M2638 1735H3586V1748Q3586 1762 3570 1762H2654Q2638 1762 2638 1748Z" fill="#181818"/>
<g fill="none" stroke="#8c8c8c" stroke-width="5">
<path d="M1454 91V8H3047V91"/>
<path d="M2249 428V575"/>
<path d="M903 655V575H3598V655"/>
<path d="M2249 970V1116"/>
<path d="M119 1198V1116H4383V1198"/>
<path d="M2249 1642V1905"/>
</g>
<g fill="#868b8e">
<circle cx="2267" cy="164" r="96"/><circle cx="2154" cy="235" r="92"/><circle cx="2353" cy="247" r="80"/>
<rect x="2154" y="200" width="199" height="127"/>
</g>
<g fill="none" stroke="#fff" stroke-width="7" stroke-linecap="round"><path d="M2146.6 202.1L2190.1 167.3L2232.7 222.6L2289.6 151.3"/></g>
<circle cx="2146.6" cy="202.1" r="14.5" fill="#868b8e" stroke="#fff" stroke-width="9.5"/>
<circle cx="2190.1" cy="167.3" r="14.5" fill="#868b8e" stroke="#fff" stroke-width="9.5"/>
<circle cx="2232.7" cy="222.6" r="14.5" fill="#868b8e" stroke="#fff" stroke-width="9.5"/>
<circle cx="2289.6" cy="151.3" r="14.5" fill="#868b8e" stroke="#fff" stroke-width="9.5"/>
<g fill="none" stroke="#fff" stroke-width="23">
<path d="M2345.7 213.3A42 42 0 0 1 2358.2 277.4"/><path d="M2354.1 281.6A42 42 0 1 1 2314.4 210.0"/><path d="M2320.9 208.7A42 42 0 0 1 2340.4 210.9"/>
</g>
<path fill="#868b8e" d="M1555.5 937.4L1555.5 924.7L1563.5 924.7L1563.5 793.4L1710.3 793.4L1710.3 763.4L1761.0 793.4L1762.8 793.4L1762.8 763.4L1813.0 793.4L1849.7 793.4L1849.7 806.0L1845.2 806.0L1845.2 922.0L1849.7 922.0L1849.7 937.4L1627.0 937.4L1627.0 908.4L1606.0 908.4L1606.0 937.4Z"/>
<g fill="#fff"><rect x="1710.3" y="825.1" width="19.0" height="20.0"/><rect x="1739.3" y="825.1" width="19.0" height="20.0"/><rect x="1768.3" y="825.1" width="19.0" height="20.0"/><rect x="1797.3" y="825.1" width="19.0" height="20.0"/><rect x="1710.3" y="853.4" width="19.0" height="20.0"/><rect x="1739.3" y="853.4" width="19.0" height="20.0"/><rect x="1768.3" y="853.4" width="19.0" height="20.0"/><rect x="1797.3" y="853.4" width="19.0" height="20.0"/><rect x="1710.3" y="881.7" width="19.0" height="20.0"/><rect x="1739.3" y="881.7" width="19.0" height="20.0"/><rect x="1768.3" y="881.7" width="19.0" height="20.0"/><rect x="1797.3" y="881.7" width="19.0" height="20.0"/></g>
<path fill="#868b8e" d="M2641.6 937.4L2641.6 924.7L2649.6 924.7L2649.6 793.4L2796.4 793.4L2796.4 763.4L2847.1 793.4L2848.9 793.4L2848.9 763.4L2899.1 793.4L2935.8 793.4L2935.8 806.0L2931.3 806.0L2931.3 922.0L2935.8 922.0L2935.8 937.4L2713.1 937.4L2713.1 908.4L2692.1 908.4L2692.1 937.4Z"/>
<g fill="#fff"><rect x="2796.4" y="825.1" width="19.0" height="20.0"/><rect x="2825.4" y="825.1" width="19.0" height="20.0"/><rect x="2854.4" y="825.1" width="19.0" height="20.0"/><rect x="2883.4" y="825.1" width="19.0" height="20.0"/><rect x="2796.4" y="853.4" width="19.0" height="20.0"/><rect x="2825.4" y="853.4" width="19.0" height="20.0"/><rect x="2854.4" y="853.4" width="19.0" height="20.0"/><rect x="2883.4" y="853.4" width="19.0" height="20.0"/><rect x="2796.4" y="881.7" width="19.0" height="20.0"/><rect x="2825.4" y="881.7" width="19.0" height="20.0"/><rect x="2854.4" y="881.7" width="19.0" height="20.0"/><rect x="2883.4" y="881.7" width="19.0" height="20.0"/></g>
<path fill="#868b8e" d="M2061.0 938.0L2061.0 922.2L2071.0 922.2L2071.0 758.6L2253.8 758.6L2253.8 721.3L2317.0 758.6L2319.2 758.6L2319.2 721.3L2381.8 758.6L2427.5 758.6L2427.5 774.3L2421.9 774.3L2421.9 918.8L2427.5 918.8L2427.5 938.0L2150.1 938.0L2150.1 901.9L2123.9 901.9L2123.9 938.0Z"/>
<g fill="#fff"><rect x="2253.8" y="798.1" width="23.7" height="24.9"/><rect x="2290.0" y="798.1" width="23.7" height="24.9"/><rect x="2326.1" y="798.1" width="23.7" height="24.9"/><rect x="2362.2" y="798.1" width="23.7" height="24.9"/><rect x="2253.8" y="833.4" width="23.7" height="24.9"/><rect x="2290.0" y="833.4" width="23.7" height="24.9"/><rect x="2326.1" y="833.4" width="23.7" height="24.9"/><rect x="2362.2" y="833.4" width="23.7" height="24.9"/><rect x="2253.8" y="868.6" width="23.7" height="24.9"/><rect x="2290.0" y="868.6" width="23.7" height="24.9"/><rect x="2326.1" y="868.6" width="23.7" height="24.9"/><rect x="2362.2" y="868.6" width="23.7" height="24.9"/></g>
<g fill="#868b8e">
<path d="M2091 1307V1536A159 47 0 0 0 2409 1536V1307Z"/>
<ellipse cx="2250" cy="1307" rx="159" ry="47"/>
</g>
<g fill="none" stroke="#fff" stroke-width="6">
<path d="M2091 1308.5A159 47 0 0 0 2409 1308.5"/>
<path d="M2091 1382A159 47 0 0 0 2409 1382"/>
<path d="M2091 1457A159 47 0 0 0 2409 1457"/>
</g>
<text x="1555.3" y="227" font-size="140" font-weight="500" letter-spacing="19.7" fill="#2e2624">企业</text>
<text x="1551" y="392" font-size="105" letter-spacing="8.5" fill="#595757">ERP</text>
<text x="981" y="809" font-size="140" font-weight="500" letter-spacing="19" fill="#2e2624">工厂</text>
<text x="983" y="948" font-size="105" letter-spacing="8" fill="#595757">MES</text>
<text x="217" y="1362" font-size="140" font-weight="500" letter-spacing="19.3" fill="#2e2624">生产现场</text>
<text x="212" y="1578" font-size="92" letter-spacing="5.8" fill="#595757">数据库应用</text>
<text x="1585.5" y="1393" font-size="92.5" letter-spacing="15.4" fill="#595757">数据分析</text>
<text x="1585.5" y="1525" font-size="92.5" letter-spacing="15.4" fill="#595757">数据存储</text>
<text y="2087" font-size="125" fill="#333" text-anchor="middle" x="1799.2 1889.7 1970.7">One</text>
<text y="2087" font-size="125" fill="#333" text-anchor="middle" x="2099.6 2188.3 2275.0 2337.2 2397.5 2459.2 2522.0 2564.7 2625.0 2697.0">Controller</text>
<text y="4454.5" font-size="125" fill="#333" text-anchor="middle" x="1772.6 1861.7 1942.8">One</text>
<text y="4454.5" font-size="125" fill="#333" text-anchor="middle" x="2072.0 2161.8 2245.1 2326.3 2407.4 2483.7 2544.0 2595.6 2658.8 2742.5">Connection</text>
<circle cx="319.3" cy="2952" r="226" fill="#ffffff" stroke="#7f8486" stroke-width="3.6"/>
<polygon points="359.0,3000.2 434.5,2986.3 462.5,3039.4 462.5,3081.3 367.4,3089.7 359.0,3075.7" fill="#dcdfe2" />
<polygon points="359.0,3000.2 373.0,2997.4 375.8,3089.7 367.4,3089.7 359.0,3075.7" fill="#b8b8b6" />
<polygon points="294.8,2860.5 333.9,2852.1 409.4,2949.9 406.6,2986.3 373.0,2997.4 283.6,2885.6" fill="#e2e5e9" />
<polygon points="283.6,2885.6 300.4,2880.1 384.2,2991.8 373.0,2997.4" fill="#b5b5b3" />
<polygon points="333.9,2905.2 345.1,2902.4 364.6,2941.5 356.3,2944.3" fill="#888" />
<polygon points="171.8,2922.0 183.0,2902.4 311.5,2813.0 328.3,2815.8 336.7,2835.3 328.3,2852.1 210.9,2930.4 183.0,2935.9" fill="#e6e8ec" />
<polygon points="183.0,2902.4 311.5,2813.0 325.5,2815.8 191.4,2910.8" fill="#c9c9c5" />
<polygon points="171.8,2922.0 183.0,2913.6 191.4,2930.4 183.0,2935.9" fill="#aab0c4" />
<path d="M250.1 2854.9L272.4 2882.8" stroke="#a8a8a8" stroke-width="3" fill="none" />
<circle cx="1476" cy="2950.5" r="223.5" fill="#ffffff" stroke="#7f8486" stroke-width="3.6"/>
<rect x="1367.2" y="2795.8" width="9.1" height="168.2" fill="#3a3a3a" />
<rect x="1359.4" y="2958.8" width="23.3" height="6.5" fill="#8a8a8a" />
<polygon points="1351.6,2868.2 1369.8,2876.0 1385.3,2886.3 1464.2,2881.2 1466.0,2904.5 1457.7,2915.3 1411.2,2917.9 1385.3,2915.3 1364.6,2927.7 1351.6,2907.0" fill="#2e3035" />
<polygon points="1369.8,2876.0 1395.6,2844.9 1447.4,2830.7 1464.2,2881.2 1385.3,2886.9" fill="#dfe3ee" />
<polygon points="1393.0,2847.5 1411.2,2829.4 1444.8,2829.4 1411.2,2852.7" fill="#2a2a2a" />
<polygon points="1408.6,2914.8 1457.7,2920.0 1499.2,2920.0 1499.2,2949.7 1426.7,2949.7 1411.2,2932.9" fill="#2c2c2e" />
<rect x="1499.2" y="2909.6" width="67.3" height="47.1" fill="#1f1f21" />
<rect x="1548.3" y="2912.2" width="18.1" height="44.0" fill="#3a3a3c" />
<rect x="1496.6" y="2954.9" width="69.9" height="7.0" fill="#7db4dc" />
<polygon points="1475.9,2971.7 1491.4,2961.4 1600.1,2969.2 1600.1,3103.7 1475.9,3106.3" fill="#dde1ec" />
<rect x="1477.2" y="2974.3" width="72.5" height="125.5" fill="#121212" />
<rect x="1499.2" y="3000.2" width="12.9" height="19.4" fill="#f4f4f4" />
<rect x="1470.7" y="3090.8" width="69.9" height="16.0" fill="#55585e" />
<circle cx="2629.5" cy="2951" r="224.5" fill="#ffffff" stroke="#7f8486" stroke-width="3.6"/>
<polygon points="2616.8,2850.1 2669.9,2826.8 2783.7,2830.7 2742.3,2855.3" fill="#2b2b27" />
<polygon points="2742.3,2855.3 2783.7,2830.7 2782.4,3010.6 2742.3,3062.3" fill="#1b1b1b" />
<rect x="2612.9" y="2851.4" width="9.1" height="199.3" fill="#8f9094" />
<rect x="2620.7" y="2849.6" width="62.1" height="11.9" fill="#2b2b27" />
<rect x="2620.7" y="2860.5" width="62.1" height="191.5" fill="#d9d9e2" />
<rect x="2682.8" y="2855.3" width="59.5" height="207.0" fill="#1f1f1f" />
<rect x="2646.6" y="2870.8" width="11.6" height="28.5" fill="#1a1a1a" />
<rect x="2667.3" y="2870.8" width="11.6" height="10.4" fill="#1a1a1a" />
<rect x="2667.3" y="2886.3" width="11.6" height="10.4" fill="#1a1a1a" />
<rect x="2638.8" y="2904.5" width="11.6" height="12.9" fill="#1a1a1a" />
<rect x="2663.4" y="2904.5" width="11.6" height="12.9" fill="#1a1a1a" />
<rect x="2638.8" y="2925.2" width="11.6" height="12.9" fill="#1a1a1a" />
<rect x="2663.4" y="2925.2" width="11.6" height="12.9" fill="#1a1a1a" />
<rect x="2654.3" y="2982.1" width="20.7" height="62.1" fill="#1a1a1a" />
<rect x="2645.3" y="2949.7" width="9.1" height="16.8" fill="#4a78a8" />
<rect x="2645.3" y="2971.7" width="9.1" height="15.5" fill="#4a78a8" />
<rect x="2627.2" y="2949.7" width="9.1" height="16.8" fill="#5a5040" />
<rect x="2627.2" y="2971.7" width="9.1" height="15.5" fill="#5a5040" />
<rect x="2624.6" y="2997.6" width="10.4" height="31.1" fill="#4a3c20" />
<rect x="2641.4" y="2997.6" width="11.6" height="36.2" fill="#c8b040" />
<rect x="2694.4" y="2865.6" width="5.2" height="7.8" fill="#8a7a40" />
<rect x="2717.7" y="2870.8" width="5.2" height="7.8" fill="#9a9a80" />
<rect x="2694.4" y="2881.2" width="5.2" height="7.8" fill="#8a7a40" />
<rect x="2717.7" y="2886.3" width="5.2" height="7.8" fill="#9a9a80" />
<rect x="2694.4" y="2896.7" width="5.2" height="7.8" fill="#8a7a40" />
<rect x="2717.7" y="2901.9" width="5.2" height="7.8" fill="#9a9a80" />
<rect x="2694.4" y="2912.2" width="5.2" height="7.8" fill="#8a7a40" />
<rect x="2717.7" y="2917.4" width="5.2" height="7.8" fill="#9a9a80" />
<rect x="2694.4" y="2927.7" width="5.2" height="7.8" fill="#8a7a40" />
<rect x="2717.7" y="2932.9" width="5.2" height="7.8" fill="#9a9a80" />
<rect x="2694.4" y="2943.3" width="5.2" height="7.8" fill="#8a7a40" />
<rect x="2717.7" y="2948.4" width="5.2" height="7.8" fill="#9a9a80" />
<rect x="2694.4" y="2958.8" width="5.2" height="7.8" fill="#8a7a40" />
<rect x="2717.7" y="2964.0" width="5.2" height="7.8" fill="#9a9a80" />
<rect x="2694.4" y="2974.3" width="5.2" height="7.8" fill="#8a7a40" />
<rect x="2717.7" y="2979.5" width="5.2" height="7.8" fill="#9a9a80" />
<rect x="2694.4" y="2989.9" width="5.2" height="7.8" fill="#8a7a40" />
<rect x="2717.7" y="2995.0" width="5.2" height="7.8" fill="#9a9a80" />
<rect x="2686.7" y="2860.5" width="45.3" height="10.4" fill="#8a7a30" />
<rect x="2685.4" y="3020.9" width="41.4" height="25.9" fill="#0c0c0c" />
<g>
<rect x="2465.4" y="2982.1" width="152.7" height="62.1" fill="#16161a" />
<ellipse cx="2465.4" cy="3013.1" rx="16" ry="33" fill="#0e0e10"/>
<rect x="2478.3" y="2997.6" width="12.9" height="28.5" fill="#e8b0a0" />
<rect x="2483.5" y="2997.6" width="6.5" height="28.5" fill="#f4ece8" />
<rect x="2543.0" y="2987.3" width="28.5" height="46.6" fill="#d8b8d0" />
<rect x="2556.0" y="2989.9" width="14.2" height="42.7" fill="#fbf6fa" />
<rect x="2530.1" y="2982.1" width="10.4" height="62.1" fill="#2a2a2e" />
<rect x="2496.5" y="3002.8" width="32.3" height="18.1" fill="#33384a" />
</g>
<circle cx="3785" cy="2951" r="225" fill="#ffffff" stroke="#7f8486" stroke-width="3.6"/>
<rect x="3786.6" y="2780.4" width="14.3" height="304.3" fill="#e8b63a" />
<rect x="3800.9" y="2780.4" width="11.2" height="304.3" fill="#1e1e1e" />
<rect x="3786.6" y="2776.1" width="25.5" height="21.7" fill="#1a1a1a" />
<rect x="3818.3" y="2789.8" width="24.2" height="326.1" fill="#e8b63a" />
<rect x="3833.2" y="2789.8" width="9.3" height="326.1" fill="#d39a2a" />
<rect x="3818.3" y="2787.9" width="24.2" height="17.4" fill="#1a1a1a" />
<rect x="3818.3" y="3098.4" width="24.2" height="18.6" fill="#1a1a1a" />
<rect x="3721.4" y="3078.6" width="88.2" height="43.5" fill="#2a2626" />
<rect x="3743.2" y="3084.8" width="28.0" height="32.3" fill="#7a2a2a" />
<rect x="3721.4" y="3083.5" width="12.4" height="33.5" fill="#b8b0a8" />
<circle cx="245.2" cy="4012.3" r="224" fill="#ffffff" stroke="#7f8486" stroke-width="3.6"/>
<polygon points="51.8,4008.4 284.7,3920.5 292.4,3930.8 292.4,3938.6 64.7,4026.6 54.3,4021.4" fill="#d6d4d0" />
<polygon points="54.3,4018.8 292.4,3930.8 292.4,3938.6 64.7,4026.6" fill="#8e8a84" />
<polygon points="181.2,4106.8 419.3,3974.8 434.8,3982.6 434.8,3992.9 199.3,4130.1 183.7,4122.3" fill="#e0dedc" />
<polygon points="196.7,4119.7 434.8,3985.2 434.8,3992.9 199.3,4130.1" fill="#6c6762" />
<polygon points="176.0,3941.2 222.6,3951.5 331.3,4016.2 323.5,4034.3 284.7,4044.7 248.4,3992.9 181.2,3961.9" fill="#c6cad4" />
<polygon points="248.4,3982.6 292.4,3987.7 279.5,4005.9 258.8,4000.7" fill="#8a92a2" />
<rect x="225.2" y="3912.7" width="20.7" height="93.2" fill="#b4b0ac" />
<rect x="239.4" y="3915.3" width="6.5" height="90.6" fill="#8a8682" />
<rect x="220.0" y="3992.9" width="8.3" height="41.4" fill="#c8c8c8" />
<polygon points="178.6,4047.3 220.0,4029.2 258.8,4047.3 217.4,4070.6" fill="#8c8f92" />
<ellipse cx="154.0" cy="3960.6" rx="21" ry="12" fill="none" stroke="#333" stroke-width="4" transform="rotate(-20 154.0 3960.6)"/>
<circle cx="1244.6" cy="4013" r="224" fill="#ffffff" stroke="#7f8486" stroke-width="3.6"/>
<polygon points="1100.9,4101.6 1181.2,4093.9 1207.0,4122.3 1150.1,4153.4" fill="#6d7279" />
<polygon points="1113.9,4021.4 1170.8,4005.9 1196.7,4044.7 1191.5,4093.9 1129.4,4104.2 1113.9,4070.6" fill="#5f636a" />
<polygon points="1124.2,4029.2 1155.3,4018.8 1155.3,4096.4 1129.4,4104.2" fill="#7f848b" />
<polygon points="1176.0,4005.9 1214.8,3961.9 1227.7,3967.0 1276.9,3956.7 1276.9,3977.4 1199.3,4083.5 1155.3,4078.3" fill="#4a4d52" />
<polygon points="1191.5,4008.4 1220.0,3967.0 1229.0,3972.2 1200.6,4021.4" fill="#ffffff" />
<polygon points="1209.6,3910.1 1243.3,3902.3 1274.3,3912.7 1276.9,3956.7 1232.9,3967.0 1201.9,3946.3" fill="#70757d" />
<polygon points="1240.7,3917.9 1269.2,3917.9 1271.7,3941.2 1248.4,3946.3" fill="#3e4146" />
<polygon points="1274.3,3912.7 1326.1,3894.6 1362.3,3894.6 1370.1,3920.5 1320.9,3930.8 1279.5,3936.0" fill="#d4d4d4" />
<rect x="1292.4" y="3911.4" width="23.3" height="24.6" fill="#4a4c50" />
<rect x="1336.4" y="3920.5" width="25.9" height="20.7" fill="#55575b" />
<path d="M1362.3 3923.0L1414.1 3916.6" stroke="#d8d8d8" stroke-width="4" fill="none" />
<path d="M1362.3 3930.8L1408.9 3925.6" stroke="#d8d8d8" stroke-width="4" fill="none" />
<circle cx="2230.4" cy="4029" r="238" fill="#ffffff" stroke="#7f8486" stroke-width="3.6"/>
<rect x="2184.0" y="3950.3" width="78.1" height="91.5" fill="#d4d2d0" />
<rect x="2198.8" y="3955.7" width="26.9" height="86.1" fill="#ececea" />
<polygon points="2198.8,3875.0 2206.9,3870.9 2255.3,3870.9 2262.1,3877.7 2262.1,3950.3 2184.0,3950.3 2182.7,3904.6" fill="#131316" />
<rect x="2210.9" y="3875.0" width="41.7" height="7.5" fill="#9aa0a8" />
<rect x="2193.4" y="3934.7" width="41.7" height="10.2" fill="#3a8ed0" />
<rect x="2198.8" y="3915.4" width="29.6" height="13.5" fill="#50586a" />
<circle cx="2193.4" cy="3990.7" r="10" fill="#2a2620"/>
<rect x="2192.1" y="4041.9" width="60.6" height="36.3" fill="#cfccc8" />
<rect x="2212.3" y="4047.3" width="26.9" height="31.0" fill="#a8a29a" />
<rect x="2212.3" y="4078.2" width="20.2" height="74.0" fill="#bdb9b5" />
<rect x="2216.3" y="4152.2" width="12.7" height="47.1" fill="#c4c0bc" />
<rect x="2227.1" y="4078.2" width="5.4" height="74.0" fill="#a09c98" />
<circle cx="3233.3" cy="4013" r="223.5" fill="#ffffff" stroke="#7f8486" stroke-width="3.6"/>
<polygon points="3246.2,3881.6 3277.3,3871.3 3279.9,4021.4 3248.8,4029.2" fill="#c2c2c6" />
<polygon points="3129.8,3907.5 3186.7,3886.8 3189.3,3873.9 3222.9,3858.3 3246.2,3858.3 3246.2,3884.2 3181.5,3915.3" fill="#0f0f0f" />
<polygon points="3181.5,3915.3 3246.2,3884.2 3248.8,4029.2 3277.3,4024.0 3277.3,4070.6 3194.5,4143.0 3186.7,4145.6" fill="#2c2d30" />
<polygon points="3129.8,3907.5 3181.5,3915.3 3186.7,4145.6 3134.9,4140.4" fill="#4a4d56" />
<polygon points="3132.3,3912.7 3178.9,3919.2 3180.2,3972.2 3133.6,3967.0" fill="#8a7c8c" />
<rect x="3155.6" y="4044.7" width="31.1" height="99.6" fill="#0c0c0c" />
<rect x="3158.2" y="4047.3" width="5.7" height="95.8" fill="#c9a227" />
<rect x="3169.9" y="4052.4" width="5.2" height="90.6" fill="#d8b43a" />
<rect x="3150.5" y="3980.0" width="20.7" height="18.1" fill="#1a1c22" />
<rect x="3153.0" y="4016.2" width="18.1" height="15.5" fill="#1a1c22" />
<polygon points="3248.8,4080.9 3285.0,4055.0 3334.2,4057.6 3323.9,4080.9" fill="#1a1a1a" />
<rect x="3312.2" y="4046.0" width="14.2" height="11.6" fill="#111" />
<polygon points="3323.9,4080.9 3334.2,4057.6 3349.7,4070.6 3349.7,4127.5 3323.9,4158.6" fill="#4c4c4c" />
<rect x="3248.8" y="4080.9" width="75.1" height="78.9" fill="#d2d2d2" />
<circle cx="3285.0" cy="4120.2" r="27" fill="#bdbdbd" stroke="#8a8a8a" stroke-width="5"/>
<circle cx="3285.0" cy="4120.2" r="11" fill="#9a9a9a"/>
<circle cx="4254.9" cy="4012.3" r="224" fill="#ffffff" stroke="#7f8486" stroke-width="3.6"/>
<path d="M4185.0 3961.9L4248.4 3925.6" stroke="#2a2a2a" stroke-width="13" fill="none" />
<path d="M4124.2 4000.7L4181.2 3974.8" stroke="#dcdad6" stroke-width="55.1" stroke-linecap="butt"/>
<ellipse cx="4124.2" cy="4000.7" rx="37.3" ry="47.9" fill="#d8d2ca" transform="rotate(-28 4124.2 4000.7)"/>
<ellipse cx="4120.2" cy="4003.7" rx="23.9" ry="33.5" fill="#ece6de" transform="rotate(-28 4124.2 4000.7)"/>
<path d="M4135.1 3949.8L4178.2 4021.7" stroke="#5a6a80" stroke-width="3"/>
<path d="M4284.7 4024.0L4346.8 3987.7" stroke="#2a2a2a" stroke-width="10.5" fill="none" />
<path d="M4222.6 4057.6L4274.3 4031.7" stroke="#dcdad6" stroke-width="38.7" stroke-linecap="butt"/>
<ellipse cx="4222.6" cy="4057.6" rx="26.2" ry="33.6" fill="#d8d2ca" transform="rotate(-28 4222.6 4057.6)"/>
<ellipse cx="4218.6" cy="4060.6" rx="16.8" ry="23.6" fill="#ece6de" transform="rotate(-28 4222.6 4057.6)"/>
<path d="M4237.3 4017.4L4267.6 4067.9" stroke="#5a6a80" stroke-width="3"/>
<path d="M4383.0 4065.4L4419.3 4043.4" stroke="#2a2a2a" stroke-width="9" fill="none" />
<path d="M4318.3 4106.8L4372.7 4073.1" stroke="#dcdad6" stroke-width="31.2" stroke-linecap="butt"/>
<ellipse cx="4318.3" cy="4106.8" rx="21.2" ry="27.2" fill="#d8d2ca" transform="rotate(-28 4318.3 4106.8)"/>
<ellipse cx="4314.3" cy="4109.8" rx="13.6" ry="19.0" fill="#ece6de" transform="rotate(-28 4318.3 4106.8)"/>
<path d="M4337.3 4067.6L4361.7 4108.3" stroke="#5a6a80" stroke-width="3"/>
</svg>
</body></html>
